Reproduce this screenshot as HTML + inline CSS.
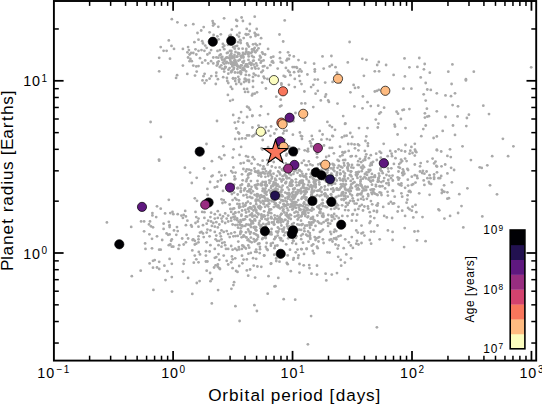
<!DOCTYPE html>
<html><head><meta charset="utf-8"><style>html,body{margin:0;padding:0;background:#fff;width:542px;height:404px;overflow:hidden;}svg{display:block;}</style></head>
<body><svg width="542" height="404" viewBox="0 0 542 404" font-family="Liberation Sans, sans-serif">
<rect width="542" height="404" fill="#fff"/>
<g fill="#a9a9a9"><circle cx="362.3" cy="58.8" r="1.4"/><circle cx="366.5" cy="59.8" r="1.4"/><circle cx="378.8" cy="62.0" r="1.4"/><circle cx="377.2" cy="65.0" r="1.4"/><circle cx="386.1" cy="65.0" r="1.4"/><circle cx="374.8" cy="71.3" r="1.4"/><circle cx="379.1" cy="71.3" r="1.4"/><circle cx="363.9" cy="75.8" r="1.4"/><circle cx="393.6" cy="74.9" r="1.4"/><circle cx="404.5" cy="58.4" r="1.4"/><circle cx="404.9" cy="76.4" r="1.4"/><circle cx="409.4" cy="67.3" r="1.4"/><circle cx="417.4" cy="66.9" r="1.4"/><circle cx="419.3" cy="58.0" r="1.4"/><circle cx="424.7" cy="64.0" r="1.4"/><circle cx="423.9" cy="69.3" r="1.4"/><circle cx="420.7" cy="77.4" r="1.4"/><circle cx="429.8" cy="72.7" r="1.4"/><circle cx="452.4" cy="64.4" r="1.4"/><circle cx="448.3" cy="71.7" r="1.4"/><circle cx="473.8" cy="71.7" r="1.4"/><circle cx="531.2" cy="67.3" r="1.4"/><circle cx="465.9" cy="79.2" r="1.4"/><circle cx="150.6" cy="122.0" r="1.4"/><circle cx="202.5" cy="80.4" r="1.4"/><circle cx="206.5" cy="80.4" r="1.4"/><circle cx="215.8" cy="84.0" r="1.4"/><circle cx="227.3" cy="81.0" r="1.4"/><circle cx="228.3" cy="83.0" r="1.4"/><circle cx="235.2" cy="81.0" r="1.4"/><circle cx="236.2" cy="84.0" r="1.4"/><circle cx="239.1" cy="82.0" r="1.4"/><circle cx="241.1" cy="84.0" r="1.4"/><circle cx="244.1" cy="82.0" r="1.4"/><circle cx="246.1" cy="81.0" r="1.4"/><circle cx="249.0" cy="82.0" r="1.4"/><circle cx="253.0" cy="81.0" r="1.4"/><circle cx="230.8" cy="86.9" r="1.4"/><circle cx="232.2" cy="88.9" r="1.4"/><circle cx="244.1" cy="88.9" r="1.4"/><circle cx="247.1" cy="88.9" r="1.4"/><circle cx="245.1" cy="91.9" r="1.4"/><circle cx="248.1" cy="91.9" r="1.4"/><circle cx="253.0" cy="86.9" r="1.4"/><circle cx="252.6" cy="93.9" r="1.4"/><circle cx="252.0" cy="95.4" r="1.4"/><circle cx="227.9" cy="94.9" r="1.4"/><circle cx="230.2" cy="100.8" r="1.4"/><circle cx="232.8" cy="99.8" r="1.4"/><circle cx="247.1" cy="106.7" r="1.4"/><circle cx="248.7" cy="107.7" r="1.4"/><circle cx="250.0" cy="109.7" r="1.4"/><circle cx="241.1" cy="112.1" r="1.4"/><circle cx="233.2" cy="115.0" r="1.4"/><circle cx="239.1" cy="118.2" r="1.4"/><circle cx="247.1" cy="117.0" r="1.4"/><circle cx="252.4" cy="115.6" r="1.4"/><circle cx="217.0" cy="121.0" r="1.4"/><circle cx="234.8" cy="122.6" r="1.4"/><circle cx="238.2" cy="121.6" r="1.4"/><circle cx="243.1" cy="122.6" r="1.4"/><circle cx="252.4" cy="127.5" r="1.4"/><circle cx="236.2" cy="128.5" r="1.4"/><circle cx="238.2" cy="132.5" r="1.4"/><circle cx="239.1" cy="133.5" r="1.4"/><circle cx="247.1" cy="135.4" r="1.4"/><circle cx="249.0" cy="135.4" r="1.4"/><circle cx="252.4" cy="136.4" r="1.4"/><circle cx="235.2" cy="139.0" r="1.4"/><circle cx="239.1" cy="139.0" r="1.4"/><circle cx="242.1" cy="138.4" r="1.4"/><circle cx="245.5" cy="138.4" r="1.4"/><circle cx="160.9" cy="137.0" r="1.4"/><circle cx="206.5" cy="144.0" r="1.4"/><circle cx="223.3" cy="146.3" r="1.4"/><circle cx="241.1" cy="146.9" r="1.4"/><circle cx="233.6" cy="149.3" r="1.4"/><circle cx="224.3" cy="155.2" r="1.4"/><circle cx="219.3" cy="157.2" r="1.4"/><circle cx="221.3" cy="158.8" r="1.4"/><circle cx="232.8" cy="157.6" r="1.4"/><circle cx="239.5" cy="154.9" r="1.4"/><circle cx="246.1" cy="156.2" r="1.4"/><circle cx="248.1" cy="156.8" r="1.4"/><circle cx="159.0" cy="159.6" r="1.4"/><circle cx="355.0" cy="87.9" r="1.4"/><circle cx="358.4" cy="87.5" r="1.4"/><circle cx="374.8" cy="91.5" r="1.4"/><circle cx="376.8" cy="90.9" r="1.4"/><circle cx="378.8" cy="89.9" r="1.4"/><circle cx="362.9" cy="96.4" r="1.4"/><circle cx="403.5" cy="88.7" r="1.4"/><circle cx="411.4" cy="88.7" r="1.4"/><circle cx="425.7" cy="83.0" r="1.4"/><circle cx="427.3" cy="89.5" r="1.4"/><circle cx="430.8" cy="89.9" r="1.4"/><circle cx="423.7" cy="94.3" r="1.4"/><circle cx="436.8" cy="93.3" r="1.4"/><circle cx="445.5" cy="95.4" r="1.4"/><circle cx="451.0" cy="96.2" r="1.4"/><circle cx="451.6" cy="84.0" r="1.4"/><circle cx="425.7" cy="100.6" r="1.4"/><circle cx="452.6" cy="105.1" r="1.4"/><circle cx="367.5" cy="102.2" r="1.4"/><circle cx="370.8" cy="106.1" r="1.4"/><circle cx="378.2" cy="105.7" r="1.4"/><circle cx="384.1" cy="107.7" r="1.4"/><circle cx="362.5" cy="108.3" r="1.4"/><circle cx="380.7" cy="112.3" r="1.4"/><circle cx="379.3" cy="113.7" r="1.4"/><circle cx="396.6" cy="111.7" r="1.4"/><circle cx="398.0" cy="113.7" r="1.4"/><circle cx="402.5" cy="110.1" r="1.4"/><circle cx="403.9" cy="109.7" r="1.4"/><circle cx="409.4" cy="109.1" r="1.4"/><circle cx="426.9" cy="108.7" r="1.4"/><circle cx="424.9" cy="113.3" r="1.4"/><circle cx="436.8" cy="111.3" r="1.4"/><circle cx="427.3" cy="116.6" r="1.4"/><circle cx="428.9" cy="116.2" r="1.4"/><circle cx="424.9" cy="117.6" r="1.4"/><circle cx="445.5" cy="117.0" r="1.4"/><circle cx="375.8" cy="119.6" r="1.4"/><circle cx="378.4" cy="123.6" r="1.4"/><circle cx="400.9" cy="119.0" r="1.4"/><circle cx="359.0" cy="128.1" r="1.4"/><circle cx="367.5" cy="128.1" r="1.4"/><circle cx="377.8" cy="127.5" r="1.4"/><circle cx="394.6" cy="124.6" r="1.4"/><circle cx="395.0" cy="126.5" r="1.4"/><circle cx="405.5" cy="128.1" r="1.4"/><circle cx="425.7" cy="125.5" r="1.4"/><circle cx="423.3" cy="129.1" r="1.4"/><circle cx="442.7" cy="130.9" r="1.4"/><circle cx="453.0" cy="125.5" r="1.4"/><circle cx="397.6" cy="134.5" r="1.4"/><circle cx="421.3" cy="136.2" r="1.4"/><circle cx="433.6" cy="138.0" r="1.4"/><circle cx="436.8" cy="136.4" r="1.4"/><circle cx="366.3" cy="136.4" r="1.4"/><circle cx="365.5" cy="141.0" r="1.4"/><circle cx="367.9" cy="143.4" r="1.4"/><circle cx="367.9" cy="145.9" r="1.4"/><circle cx="358.0" cy="144.4" r="1.4"/><circle cx="359.0" cy="145.3" r="1.4"/><circle cx="383.7" cy="143.8" r="1.4"/><circle cx="405.5" cy="145.0" r="1.4"/><circle cx="414.8" cy="143.8" r="1.4"/><circle cx="411.4" cy="146.9" r="1.4"/><circle cx="355.0" cy="148.3" r="1.4"/><circle cx="358.4" cy="150.3" r="1.4"/><circle cx="364.9" cy="150.9" r="1.4"/><circle cx="366.3" cy="154.3" r="1.4"/><circle cx="365.5" cy="156.8" r="1.4"/><circle cx="364.9" cy="158.8" r="1.4"/><circle cx="376.2" cy="153.7" r="1.4"/><circle cx="379.7" cy="151.7" r="1.4"/><circle cx="381.1" cy="152.9" r="1.4"/><circle cx="390.2" cy="150.9" r="1.4"/><circle cx="391.6" cy="153.7" r="1.4"/><circle cx="398.6" cy="149.3" r="1.4"/><circle cx="415.0" cy="149.7" r="1.4"/><circle cx="436.8" cy="149.7" r="1.4"/><circle cx="450.0" cy="149.3" r="1.4"/><circle cx="387.7" cy="156.2" r="1.4"/><circle cx="392.0" cy="156.2" r="1.4"/><circle cx="380.7" cy="157.6" r="1.4"/><circle cx="370.8" cy="155.2" r="1.4"/><circle cx="368.9" cy="158.2" r="1.4"/><circle cx="356.0" cy="156.2" r="1.4"/><circle cx="359.9" cy="158.8" r="1.4"/><circle cx="465.9" cy="80.4" r="1.4"/><circle cx="455.0" cy="93.3" r="1.4"/><circle cx="458.0" cy="106.3" r="1.4"/><circle cx="483.3" cy="105.7" r="1.4"/><circle cx="457.6" cy="116.4" r="1.4"/><circle cx="468.9" cy="114.7" r="1.4"/><circle cx="466.9" cy="118.0" r="1.4"/><circle cx="489.0" cy="114.1" r="1.4"/><circle cx="466.3" cy="126.1" r="1.4"/><circle cx="455.0" cy="134.9" r="1.4"/><circle cx="502.9" cy="138.8" r="1.4"/><circle cx="462.5" cy="146.3" r="1.4"/><circle cx="513.4" cy="146.3" r="1.4"/><circle cx="492.2" cy="156.2" r="1.4"/><circle cx="508.1" cy="156.2" r="1.4"/><circle cx="106.9" cy="222.4" r="1.4"/><circle cx="131.2" cy="226.9" r="1.4"/><circle cx="141.1" cy="221.4" r="1.4"/><circle cx="144.1" cy="221.4" r="1.4"/><circle cx="150.0" cy="221.4" r="1.4"/><circle cx="152.4" cy="213.1" r="1.4"/><circle cx="152.4" cy="215.4" r="1.4"/><circle cx="149.0" cy="224.4" r="1.4"/><circle cx="151.0" cy="226.3" r="1.4"/><circle cx="153.0" cy="227.3" r="1.4"/><circle cx="144.1" cy="231.3" r="1.4"/><circle cx="149.4" cy="234.3" r="1.4"/><circle cx="152.0" cy="238.8" r="1.4"/><circle cx="479.7" cy="167.3" r="1.4"/><circle cx="481.7" cy="167.9" r="1.4"/><circle cx="487.3" cy="165.3" r="1.4"/><circle cx="490.0" cy="185.3" r="1.4"/><circle cx="497.0" cy="194.3" r="1.4"/><circle cx="482.3" cy="216.4" r="1.4"/><circle cx="145.1" cy="243.4" r="1.4"/><circle cx="145.5" cy="248.9" r="1.4"/><circle cx="152.0" cy="248.3" r="1.4"/><circle cx="149.6" cy="263.4" r="1.4"/><circle cx="153.0" cy="260.8" r="1.4"/><circle cx="153.0" cy="267.7" r="1.4"/><circle cx="140.7" cy="270.7" r="1.4"/><circle cx="131.8" cy="276.2" r="1.4"/><circle cx="153.4" cy="289.9" r="1.4"/><circle cx="239.6" cy="321.0" r="1.4"/><circle cx="376.9" cy="327.3" r="1.4"/><circle cx="307.9" cy="344.3" r="1.4"/><circle cx="224.1" cy="18.3" r="1.4"/><circle cx="241.6" cy="17.5" r="1.4"/><circle cx="159.2" cy="71.3" r="1.4"/><circle cx="187.3" cy="73.9" r="1.4"/><circle cx="176.1" cy="77.9" r="1.4"/><circle cx="177.1" cy="75.2" r="1.4"/><circle cx="204.6" cy="83.1" r="1.4"/><circle cx="349.6" cy="42.0" r="1.4"/><circle cx="337.0" cy="72.6" r="1.4"/><circle cx="335.5" cy="67.2" r="1.4"/><circle cx="347.8" cy="62.4" r="1.4"/><circle cx="350.4" cy="92.3" r="1.4"/><circle cx="340.4" cy="82.5" r="1.4"/><circle cx="353.6" cy="84.9" r="1.4"/><circle cx="252.3" cy="116.0" r="1.4"/><circle cx="354.4" cy="106.4" r="1.4"/><circle cx="337.5" cy="103.6" r="1.4"/><circle cx="343.2" cy="116.1" r="1.4"/><circle cx="255.6" cy="133.9" r="1.4"/><circle cx="270.4" cy="135.8" r="1.4"/><circle cx="262.7" cy="140.0" r="1.4"/><circle cx="268.6" cy="130.8" r="1.4"/><circle cx="265.6" cy="132.9" r="1.4"/><circle cx="253.7" cy="135.5" r="1.4"/><circle cx="286.6" cy="130.7" r="1.4"/><circle cx="284.5" cy="139.8" r="1.4"/><circle cx="284.2" cy="130.8" r="1.4"/><circle cx="274.4" cy="133.5" r="1.4"/><circle cx="283.2" cy="133.4" r="1.4"/><circle cx="301.9" cy="138.9" r="1.4"/><circle cx="292.9" cy="134.7" r="1.4"/><circle cx="300.9" cy="135.9" r="1.4"/><circle cx="311.8" cy="135.9" r="1.4"/><circle cx="302.0" cy="136.3" r="1.4"/><circle cx="299.9" cy="132.5" r="1.4"/><circle cx="322.6" cy="134.5" r="1.4"/><circle cx="319.7" cy="130.9" r="1.4"/><circle cx="332.9" cy="136.2" r="1.4"/><circle cx="332.3" cy="135.8" r="1.4"/><circle cx="326.9" cy="139.1" r="1.4"/><circle cx="352.3" cy="136.9" r="1.4"/><circle cx="346.6" cy="135.7" r="1.4"/><circle cx="350.3" cy="133.0" r="1.4"/><circle cx="344.5" cy="136.0" r="1.4"/><circle cx="345.0" cy="123.9" r="1.4"/><circle cx="345.4" cy="123.5" r="1.4"/><circle cx="342.0" cy="137.3" r="1.4"/><circle cx="335.0" cy="129.8" r="1.4"/><circle cx="268.1" cy="147.2" r="1.4"/><circle cx="275.1" cy="153.7" r="1.4"/><circle cx="252.8" cy="157.2" r="1.4"/><circle cx="262.4" cy="149.5" r="1.4"/><circle cx="274.3" cy="153.0" r="1.4"/><circle cx="261.7" cy="148.4" r="1.4"/><circle cx="284.6" cy="147.7" r="1.4"/><circle cx="279.8" cy="144.9" r="1.4"/><circle cx="289.1" cy="146.4" r="1.4"/><circle cx="286.3" cy="155.5" r="1.4"/><circle cx="280.1" cy="152.9" r="1.4"/><circle cx="286.8" cy="154.0" r="1.4"/><circle cx="311.3" cy="145.9" r="1.4"/><circle cx="295.4" cy="155.3" r="1.4"/><circle cx="308.0" cy="149.0" r="1.4"/><circle cx="304.7" cy="150.3" r="1.4"/><circle cx="308.1" cy="151.3" r="1.4"/><circle cx="310.0" cy="141.3" r="1.4"/><circle cx="311.4" cy="146.3" r="1.4"/><circle cx="310.9" cy="143.3" r="1.4"/><circle cx="298.9" cy="149.2" r="1.4"/><circle cx="307.3" cy="151.1" r="1.4"/><circle cx="316.8" cy="153.4" r="1.4"/><circle cx="332.1" cy="147.8" r="1.4"/><circle cx="329.7" cy="147.9" r="1.4"/><circle cx="324.0" cy="145.5" r="1.4"/><circle cx="317.2" cy="153.7" r="1.4"/><circle cx="317.1" cy="157.3" r="1.4"/><circle cx="319.0" cy="145.1" r="1.4"/><circle cx="328.9" cy="155.9" r="1.4"/><circle cx="329.8" cy="139.8" r="1.4"/><circle cx="326.2" cy="157.0" r="1.4"/><circle cx="321.4" cy="139.7" r="1.4"/><circle cx="312.7" cy="139.3" r="1.4"/><circle cx="340.1" cy="156.3" r="1.4"/><circle cx="345.1" cy="152.0" r="1.4"/><circle cx="342.4" cy="155.2" r="1.4"/><circle cx="340.0" cy="146.7" r="1.4"/><circle cx="342.5" cy="152.2" r="1.4"/><circle cx="345.2" cy="160.0" r="1.4"/><circle cx="348.7" cy="150.9" r="1.4"/><circle cx="354.5" cy="144.4" r="1.4"/><circle cx="343.7" cy="152.8" r="1.4"/><circle cx="348.2" cy="144.0" r="1.4"/><circle cx="333.9" cy="153.3" r="1.4"/><circle cx="350.7" cy="156.4" r="1.4"/><circle cx="351.5" cy="144.0" r="1.4"/><circle cx="351.8" cy="156.1" r="1.4"/><circle cx="254.4" cy="159.3" r="1.4"/><circle cx="365.2" cy="159.9" r="1.4"/><circle cx="210.5" cy="281.2" r="1.4"/><circle cx="234.1" cy="282.2" r="1.4"/><circle cx="172.0" cy="291.6" r="1.4"/><circle cx="165.5" cy="280.1" r="1.4"/><circle cx="196.8" cy="283.0" r="1.4"/><circle cx="192.3" cy="293.9" r="1.4"/><circle cx="199.6" cy="281.1" r="1.4"/><circle cx="218.1" cy="290.1" r="1.4"/><circle cx="231.4" cy="288.8" r="1.4"/><circle cx="233.4" cy="285.1" r="1.4"/><circle cx="211.8" cy="303.4" r="1.4"/><circle cx="235.4" cy="306.2" r="1.4"/><circle cx="326.3" cy="280.4" r="1.4"/><circle cx="267.7" cy="293.7" r="1.4"/><circle cx="283.7" cy="299.2" r="1.4"/><circle cx="274.5" cy="286.4" r="1.4"/><circle cx="275.4" cy="286.2" r="1.4"/><circle cx="295.2" cy="299.7" r="1.4"/><circle cx="254.4" cy="305.2" r="1.4"/><circle cx="256.9" cy="311.0" r="1.4"/><circle cx="311.1" cy="316.1" r="1.4"/><circle cx="282.1" cy="160.0" r="1.4"/><circle cx="159.2" cy="160.7" r="1.4"/><circle cx="211.9" cy="161.2" r="1.4"/><circle cx="184.9" cy="167.7" r="1.4"/><circle cx="204.1" cy="168.5" r="1.4"/><circle cx="190.1" cy="172.6" r="1.4"/><circle cx="196.7" cy="177.8" r="1.4"/><circle cx="212.6" cy="175.6" r="1.4"/><circle cx="211.6" cy="176.3" r="1.4"/><circle cx="219.3" cy="172.2" r="1.4"/><circle cx="221.5" cy="175.6" r="1.4"/><circle cx="225.2" cy="175.1" r="1.4"/><circle cx="231.2" cy="171.1" r="1.4"/><circle cx="233.4" cy="167.4" r="1.4"/><circle cx="232.6" cy="172.6" r="1.4"/><circle cx="191.8" cy="183.0" r="1.4"/><circle cx="210.1" cy="182.0" r="1.4"/><circle cx="217.8" cy="181.5" r="1.4"/><circle cx="220.8" cy="180.0" r="1.4"/><circle cx="214.8" cy="187.4" r="1.4"/><circle cx="217.1" cy="186.7" r="1.4"/><circle cx="207.4" cy="188.9" r="1.4"/><circle cx="223.0" cy="190.9" r="1.4"/><circle cx="207.7" cy="194.9" r="1.4"/><circle cx="231.9" cy="194.1" r="1.4"/><circle cx="168.8" cy="199.8" r="1.4"/><circle cx="194.8" cy="198.3" r="1.4"/><circle cx="197.0" cy="200.8" r="1.4"/><circle cx="221.5" cy="199.3" r="1.4"/><circle cx="223.7" cy="200.1" r="1.4"/><circle cx="222.5" cy="203.0" r="1.4"/><circle cx="225.2" cy="202.3" r="1.4"/><circle cx="229.7" cy="204.5" r="1.4"/><circle cx="232.6" cy="200.1" r="1.4"/><circle cx="157.0" cy="206.3" r="1.4"/><circle cx="160.7" cy="208.7" r="1.4"/><circle cx="185.2" cy="210.9" r="1.4"/><circle cx="195.5" cy="211.9" r="1.4"/><circle cx="202.2" cy="211.9" r="1.4"/><circle cx="204.4" cy="212.2" r="1.4"/><circle cx="211.1" cy="212.7" r="1.4"/><circle cx="214.8" cy="214.2" r="1.4"/><circle cx="217.8" cy="211.2" r="1.4"/><circle cx="220.0" cy="214.9" r="1.4"/><circle cx="223.0" cy="216.4" r="1.4"/><circle cx="225.2" cy="213.4" r="1.4"/><circle cx="228.2" cy="215.6" r="1.4"/><circle cx="231.2" cy="211.9" r="1.4"/><circle cx="232.6" cy="209.0" r="1.4"/><circle cx="165.1" cy="213.4" r="1.4"/><circle cx="170.3" cy="213.1" r="1.4"/><circle cx="172.5" cy="211.9" r="1.4"/><circle cx="173.3" cy="214.2" r="1.4"/><circle cx="177.7" cy="214.2" r="1.4"/><circle cx="181.4" cy="215.6" r="1.4"/><circle cx="182.9" cy="217.9" r="1.4"/><circle cx="185.9" cy="216.4" r="1.4"/><circle cx="183.7" cy="214.9" r="1.4"/><circle cx="156.2" cy="217.1" r="1.4"/><circle cx="196.3" cy="217.1" r="1.4"/><circle cx="198.5" cy="218.6" r="1.4"/><circle cx="204.4" cy="217.9" r="1.4"/><circle cx="210.4" cy="217.1" r="1.4"/><circle cx="214.8" cy="218.6" r="1.4"/><circle cx="217.8" cy="217.9" r="1.4"/><circle cx="221.5" cy="218.6" r="1.4"/><circle cx="226.7" cy="218.6" r="1.4"/><circle cx="231.2" cy="217.9" r="1.4"/><circle cx="233.4" cy="217.1" r="1.4"/><circle cx="233.4" cy="214.2" r="1.4"/><circle cx="230.4" cy="209.0" r="1.4"/><circle cx="395.5" cy="151.5" r="1.4"/><circle cx="401.4" cy="150.7" r="1.4"/><circle cx="405.1" cy="151.5" r="1.4"/><circle cx="410.3" cy="150.7" r="1.4"/><circle cx="415.5" cy="151.2" r="1.4"/><circle cx="416.3" cy="152.2" r="1.4"/><circle cx="409.6" cy="153.7" r="1.4"/><circle cx="412.5" cy="153.0" r="1.4"/><circle cx="414.8" cy="155.6" r="1.4"/><circle cx="395.5" cy="158.2" r="1.4"/><circle cx="401.1" cy="159.6" r="1.4"/><circle cx="402.2" cy="161.1" r="1.4"/><circle cx="405.1" cy="158.6" r="1.4"/><circle cx="406.6" cy="161.1" r="1.4"/><circle cx="400.7" cy="162.6" r="1.4"/><circle cx="399.2" cy="164.1" r="1.4"/><circle cx="398.5" cy="167.1" r="1.4"/><circle cx="399.9" cy="167.8" r="1.4"/><circle cx="402.9" cy="169.3" r="1.4"/><circle cx="403.6" cy="171.5" r="1.4"/><circle cx="402.2" cy="173.0" r="1.4"/><circle cx="404.4" cy="173.7" r="1.4"/><circle cx="402.9" cy="175.2" r="1.4"/><circle cx="398.5" cy="171.5" r="1.4"/><circle cx="407.4" cy="169.0" r="1.4"/><circle cx="408.1" cy="170.0" r="1.4"/><circle cx="397.7" cy="177.4" r="1.4"/><circle cx="399.2" cy="178.2" r="1.4"/><circle cx="398.5" cy="179.7" r="1.4"/><circle cx="407.8" cy="179.7" r="1.4"/><circle cx="411.8" cy="176.7" r="1.4"/><circle cx="414.8" cy="175.2" r="1.4"/><circle cx="417.0" cy="176.0" r="1.4"/><circle cx="417.4" cy="178.2" r="1.4"/><circle cx="414.8" cy="164.5" r="1.4"/><circle cx="420.7" cy="163.1" r="1.4"/><circle cx="420.0" cy="166.3" r="1.4"/><circle cx="427.4" cy="161.6" r="1.4"/><circle cx="432.6" cy="158.6" r="1.4"/><circle cx="435.5" cy="161.6" r="1.4"/><circle cx="434.1" cy="163.4" r="1.4"/><circle cx="436.3" cy="166.0" r="1.4"/><circle cx="437.0" cy="166.6" r="1.4"/><circle cx="420.0" cy="171.5" r="1.4"/><circle cx="422.9" cy="170.8" r="1.4"/><circle cx="422.2" cy="173.0" r="1.4"/><circle cx="424.4" cy="173.7" r="1.4"/><circle cx="426.6" cy="171.5" r="1.4"/><circle cx="429.6" cy="175.2" r="1.4"/><circle cx="434.1" cy="174.5" r="1.4"/><circle cx="437.0" cy="172.3" r="1.4"/><circle cx="441.5" cy="166.3" r="1.4"/><circle cx="445.2" cy="164.5" r="1.4"/><circle cx="441.2" cy="176.0" r="1.4"/><circle cx="438.5" cy="178.2" r="1.4"/><circle cx="440.0" cy="178.2" r="1.4"/><circle cx="434.1" cy="178.9" r="1.4"/><circle cx="430.4" cy="178.2" r="1.4"/><circle cx="427.4" cy="178.2" r="1.4"/><circle cx="423.7" cy="180.4" r="1.4"/><circle cx="424.4" cy="184.9" r="1.4"/><circle cx="428.9" cy="181.9" r="1.4"/><circle cx="429.6" cy="183.4" r="1.4"/><circle cx="431.1" cy="184.1" r="1.4"/><circle cx="434.1" cy="177.4" r="1.4"/><circle cx="415.5" cy="182.6" r="1.4"/><circle cx="413.3" cy="184.1" r="1.4"/><circle cx="411.8" cy="184.9" r="1.4"/><circle cx="408.1" cy="185.6" r="1.4"/><circle cx="405.1" cy="187.8" r="1.4"/><circle cx="401.4" cy="183.4" r="1.4"/><circle cx="399.9" cy="184.9" r="1.4"/><circle cx="398.5" cy="184.1" r="1.4"/><circle cx="401.4" cy="185.6" r="1.4"/><circle cx="447.4" cy="155.9" r="1.4"/><circle cx="450.8" cy="157.1" r="1.4"/><circle cx="451.1" cy="167.8" r="1.4"/><circle cx="454.1" cy="170.0" r="1.4"/><circle cx="447.4" cy="173.4" r="1.4"/><circle cx="441.2" cy="151.5" r="1.4"/><circle cx="437.0" cy="150.3" r="1.4"/><circle cx="470.9" cy="160.1" r="1.4"/><circle cx="451.9" cy="182.3" r="1.4"/><circle cx="444.1" cy="185.3" r="1.4"/><circle cx="441.8" cy="189.8" r="1.4"/><circle cx="443.0" cy="191.5" r="1.4"/><circle cx="441.8" cy="193.0" r="1.4"/><circle cx="444.4" cy="191.8" r="1.4"/><circle cx="447.4" cy="192.3" r="1.4"/><circle cx="467.4" cy="188.3" r="1.4"/><circle cx="459.3" cy="194.2" r="1.4"/><circle cx="447.4" cy="198.7" r="1.4"/><circle cx="448.9" cy="198.2" r="1.4"/><circle cx="461.5" cy="206.1" r="1.4"/><circle cx="429.6" cy="194.8" r="1.4"/><circle cx="419.2" cy="193.3" r="1.4"/><circle cx="409.6" cy="190.8" r="1.4"/><circle cx="408.8" cy="191.5" r="1.4"/><circle cx="410.6" cy="192.0" r="1.4"/><circle cx="401.4" cy="193.3" r="1.4"/><circle cx="402.2" cy="196.7" r="1.4"/><circle cx="407.6" cy="195.3" r="1.4"/><circle cx="407.4" cy="199.7" r="1.4"/><circle cx="406.6" cy="202.7" r="1.4"/><circle cx="394.7" cy="196.7" r="1.4"/><circle cx="415.5" cy="204.9" r="1.4"/><circle cx="412.5" cy="206.7" r="1.4"/><circle cx="408.1" cy="207.9" r="1.4"/><circle cx="398.5" cy="206.8" r="1.4"/><circle cx="409.6" cy="209.3" r="1.4"/><circle cx="438.5" cy="209.3" r="1.4"/><circle cx="397.7" cy="211.5" r="1.4"/><circle cx="402.2" cy="210.7" r="1.4"/><circle cx="411.8" cy="210.7" r="1.4"/><circle cx="416.3" cy="212.2" r="1.4"/><circle cx="405.1" cy="215.9" r="1.4"/><circle cx="413.3" cy="217.4" r="1.4"/><circle cx="422.5" cy="217.1" r="1.4"/><circle cx="439.3" cy="210.3" r="1.4"/><circle cx="444.4" cy="218.6" r="1.4"/><circle cx="450.1" cy="215.9" r="1.4"/><circle cx="458.1" cy="213.0" r="1.4"/><circle cx="463.3" cy="227.4" r="1.4"/><circle cx="404.7" cy="228.1" r="1.4"/><circle cx="414.5" cy="231.5" r="1.4"/><circle cx="418.0" cy="231.2" r="1.4"/><circle cx="417.0" cy="240.4" r="1.4"/><circle cx="425.6" cy="241.2" r="1.4"/><circle cx="404.1" cy="247.1" r="1.4"/><circle cx="314.7" cy="220.7" r="1.4"/><circle cx="317.7" cy="221.5" r="1.4"/><circle cx="319.2" cy="223.0" r="1.4"/><circle cx="321.4" cy="223.7" r="1.4"/><circle cx="323.6" cy="222.2" r="1.4"/><circle cx="325.9" cy="220.7" r="1.4"/><circle cx="328.1" cy="223.0" r="1.4"/><circle cx="330.3" cy="223.7" r="1.4"/><circle cx="315.5" cy="225.9" r="1.4"/><circle cx="328.1" cy="225.9" r="1.4"/><circle cx="331.8" cy="220.7" r="1.4"/><circle cx="322.9" cy="229.6" r="1.4"/><circle cx="319.9" cy="231.9" r="1.4"/><circle cx="321.4" cy="231.1" r="1.4"/><circle cx="330.3" cy="231.9" r="1.4"/><circle cx="331.1" cy="234.1" r="1.4"/><circle cx="334.8" cy="229.6" r="1.4"/><circle cx="334.0" cy="231.9" r="1.4"/><circle cx="336.3" cy="231.1" r="1.4"/><circle cx="314.7" cy="237.1" r="1.4"/><circle cx="316.2" cy="238.5" r="1.4"/><circle cx="317.7" cy="237.8" r="1.4"/><circle cx="319.2" cy="237.1" r="1.4"/><circle cx="315.5" cy="240.0" r="1.4"/><circle cx="318.5" cy="241.5" r="1.4"/><circle cx="322.9" cy="239.3" r="1.4"/><circle cx="323.6" cy="243.0" r="1.4"/><circle cx="329.6" cy="240.0" r="1.4"/><circle cx="331.1" cy="239.3" r="1.4"/><circle cx="332.5" cy="241.5" r="1.4"/><circle cx="334.0" cy="238.5" r="1.4"/><circle cx="336.3" cy="237.8" r="1.4"/><circle cx="336.3" cy="239.3" r="1.4"/><circle cx="338.5" cy="236.3" r="1.4"/><circle cx="340.7" cy="235.6" r="1.4"/><circle cx="335.5" cy="244.5" r="1.4"/><circle cx="338.5" cy="245.5" r="1.4"/><circle cx="337.7" cy="248.6" r="1.4"/><circle cx="317.0" cy="246.7" r="1.4"/><circle cx="317.7" cy="248.2" r="1.4"/><circle cx="327.4" cy="252.3" r="1.4"/><circle cx="329.6" cy="252.6" r="1.4"/><circle cx="343.7" cy="248.2" r="1.4"/><circle cx="345.2" cy="239.3" r="1.4"/><circle cx="348.9" cy="242.3" r="1.4"/><circle cx="350.8" cy="245.5" r="1.4"/><circle cx="352.9" cy="247.9" r="1.4"/><circle cx="351.8" cy="237.1" r="1.4"/><circle cx="356.3" cy="230.4" r="1.4"/><circle cx="357.8" cy="232.6" r="1.4"/><circle cx="361.5" cy="233.4" r="1.4"/><circle cx="363.0" cy="232.6" r="1.4"/><circle cx="364.4" cy="235.6" r="1.4"/><circle cx="361.5" cy="243.0" r="1.4"/><circle cx="357.0" cy="240.8" r="1.4"/><circle cx="356.3" cy="243.7" r="1.4"/><circle cx="358.5" cy="244.5" r="1.4"/><circle cx="361.5" cy="225.6" r="1.4"/><circle cx="356.3" cy="220.7" r="1.4"/><circle cx="351.8" cy="220.7" r="1.4"/><circle cx="369.6" cy="223.0" r="1.4"/><circle cx="370.4" cy="221.5" r="1.4"/><circle cx="377.5" cy="225.5" r="1.4"/><circle cx="371.1" cy="231.6" r="1.4"/><circle cx="374.1" cy="231.6" r="1.4"/><circle cx="387.9" cy="230.4" r="1.4"/><circle cx="392.6" cy="231.9" r="1.4"/><circle cx="369.8" cy="240.0" r="1.4"/><circle cx="371.1" cy="243.7" r="1.4"/><circle cx="379.7" cy="239.3" r="1.4"/><circle cx="392.6" cy="240.0" r="1.4"/><circle cx="338.2" cy="256.8" r="1.4"/><circle cx="340.7" cy="259.8" r="1.4"/><circle cx="344.9" cy="262.6" r="1.4"/><circle cx="341.2" cy="265.7" r="1.4"/><circle cx="346.3" cy="254.4" r="1.4"/><circle cx="351.1" cy="258.3" r="1.4"/><circle cx="317.0" cy="265.7" r="1.4"/><circle cx="317.0" cy="274.6" r="1.4"/><circle cx="325.6" cy="273.7" r="1.4"/><circle cx="331.8" cy="274.6" r="1.4"/><circle cx="337.0" cy="273.1" r="1.4"/><circle cx="347.8" cy="279.1" r="1.4"/><circle cx="163.6" cy="223.7" r="1.4"/><circle cx="168.8" cy="221.8" r="1.4"/><circle cx="169.6" cy="225.2" r="1.4"/><circle cx="169.6" cy="227.1" r="1.4"/><circle cx="177.0" cy="227.1" r="1.4"/><circle cx="174.0" cy="230.4" r="1.4"/><circle cx="177.7" cy="231.1" r="1.4"/><circle cx="176.3" cy="234.8" r="1.4"/><circle cx="166.6" cy="233.4" r="1.4"/><circle cx="168.1" cy="234.8" r="1.4"/><circle cx="169.6" cy="234.4" r="1.4"/><circle cx="163.6" cy="228.9" r="1.4"/><circle cx="157.0" cy="236.3" r="1.4"/><circle cx="162.2" cy="240.0" r="1.4"/><circle cx="171.8" cy="239.3" r="1.4"/><circle cx="171.1" cy="240.8" r="1.4"/><circle cx="168.8" cy="245.2" r="1.4"/><circle cx="171.8" cy="246.7" r="1.4"/><circle cx="173.3" cy="246.7" r="1.4"/><circle cx="170.3" cy="244.5" r="1.4"/><circle cx="159.2" cy="249.7" r="1.4"/><circle cx="160.7" cy="249.7" r="1.4"/><circle cx="179.2" cy="245.2" r="1.4"/><circle cx="178.5" cy="248.9" r="1.4"/><circle cx="182.2" cy="238.5" r="1.4"/><circle cx="186.6" cy="234.8" r="1.4"/><circle cx="188.1" cy="238.5" r="1.4"/><circle cx="185.9" cy="242.3" r="1.4"/><circle cx="183.7" cy="244.5" r="1.4"/><circle cx="187.4" cy="220.7" r="1.4"/><circle cx="185.9" cy="225.2" r="1.4"/><circle cx="191.1" cy="225.2" r="1.4"/><circle cx="191.8" cy="226.7" r="1.4"/><circle cx="195.5" cy="223.0" r="1.4"/><circle cx="197.8" cy="221.5" r="1.4"/><circle cx="198.5" cy="226.7" r="1.4"/><circle cx="203.0" cy="225.2" r="1.4"/><circle cx="206.7" cy="223.7" r="1.4"/><circle cx="208.2" cy="220.7" r="1.4"/><circle cx="211.1" cy="221.5" r="1.4"/><circle cx="213.3" cy="223.0" r="1.4"/><circle cx="214.8" cy="226.7" r="1.4"/><circle cx="216.3" cy="222.2" r="1.4"/><circle cx="219.3" cy="224.5" r="1.4"/><circle cx="222.2" cy="221.5" r="1.4"/><circle cx="225.2" cy="223.0" r="1.4"/><circle cx="228.2" cy="221.5" r="1.4"/><circle cx="231.2" cy="220.7" r="1.4"/><circle cx="232.6" cy="224.5" r="1.4"/><circle cx="211.9" cy="225.9" r="1.4"/><circle cx="217.8" cy="227.4" r="1.4"/><circle cx="221.5" cy="230.4" r="1.4"/><circle cx="223.7" cy="231.9" r="1.4"/><circle cx="220.0" cy="233.4" r="1.4"/><circle cx="226.7" cy="231.1" r="1.4"/><circle cx="228.2" cy="234.1" r="1.4"/><circle cx="231.2" cy="233.4" r="1.4"/><circle cx="229.7" cy="237.1" r="1.4"/><circle cx="233.4" cy="236.3" r="1.4"/><circle cx="220.8" cy="236.3" r="1.4"/><circle cx="216.3" cy="235.6" r="1.4"/><circle cx="214.8" cy="231.9" r="1.4"/><circle cx="210.4" cy="230.4" r="1.4"/><circle cx="207.4" cy="229.6" r="1.4"/><circle cx="206.7" cy="232.6" r="1.4"/><circle cx="203.0" cy="233.4" r="1.4"/><circle cx="201.5" cy="231.9" r="1.4"/><circle cx="200.0" cy="232.6" r="1.4"/><circle cx="198.5" cy="236.3" r="1.4"/><circle cx="203.7" cy="237.1" r="1.4"/><circle cx="209.6" cy="236.3" r="1.4"/><circle cx="193.3" cy="239.3" r="1.4"/><circle cx="194.8" cy="240.8" r="1.4"/><circle cx="192.6" cy="240.0" r="1.4"/><circle cx="198.5" cy="239.3" r="1.4"/><circle cx="198.5" cy="242.3" r="1.4"/><circle cx="194.8" cy="244.5" r="1.4"/><circle cx="196.3" cy="243.7" r="1.4"/><circle cx="206.7" cy="242.3" r="1.4"/><circle cx="210.4" cy="245.2" r="1.4"/><circle cx="215.6" cy="239.3" r="1.4"/><circle cx="217.1" cy="240.8" r="1.4"/><circle cx="219.3" cy="240.8" r="1.4"/><circle cx="221.5" cy="239.3" r="1.4"/><circle cx="222.2" cy="243.0" r="1.4"/><circle cx="224.5" cy="242.3" r="1.4"/><circle cx="225.2" cy="245.2" r="1.4"/><circle cx="218.5" cy="245.2" r="1.4"/><circle cx="221.5" cy="246.7" r="1.4"/><circle cx="228.2" cy="248.9" r="1.4"/><circle cx="231.2" cy="246.0" r="1.4"/><circle cx="214.8" cy="248.9" r="1.4"/><circle cx="226.0" cy="248.9" r="1.4"/><circle cx="232.6" cy="249.7" r="1.4"/><circle cx="192.3" cy="250.4" r="1.4"/><circle cx="198.8" cy="251.9" r="1.4"/><circle cx="200.0" cy="254.4" r="1.4"/><circle cx="205.9" cy="251.2" r="1.4"/><circle cx="209.6" cy="251.5" r="1.4"/><circle cx="194.8" cy="255.6" r="1.4"/><circle cx="205.9" cy="255.6" r="1.4"/><circle cx="196.3" cy="259.3" r="1.4"/><circle cx="198.5" cy="262.3" r="1.4"/><circle cx="193.8" cy="262.7" r="1.4"/><circle cx="205.9" cy="261.5" r="1.4"/><circle cx="207.4" cy="261.5" r="1.4"/><circle cx="214.8" cy="257.8" r="1.4"/><circle cx="216.3" cy="257.1" r="1.4"/><circle cx="218.5" cy="254.1" r="1.4"/><circle cx="219.3" cy="259.8" r="1.4"/><circle cx="223.7" cy="255.6" r="1.4"/><circle cx="226.7" cy="260.8" r="1.4"/><circle cx="231.9" cy="256.4" r="1.4"/><circle cx="232.6" cy="259.3" r="1.4"/><circle cx="231.2" cy="262.3" r="1.4"/><circle cx="228.2" cy="264.5" r="1.4"/><circle cx="217.8" cy="264.5" r="1.4"/><circle cx="215.6" cy="265.3" r="1.4"/><circle cx="214.1" cy="267.5" r="1.4"/><circle cx="219.3" cy="268.2" r="1.4"/><circle cx="220.0" cy="269.0" r="1.4"/><circle cx="217.8" cy="266.7" r="1.4"/><circle cx="232.6" cy="268.2" r="1.4"/><circle cx="184.4" cy="260.1" r="1.4"/><circle cx="183.7" cy="263.8" r="1.4"/><circle cx="169.6" cy="258.9" r="1.4"/><circle cx="171.8" cy="263.8" r="1.4"/><circle cx="164.4" cy="265.7" r="1.4"/><circle cx="159.2" cy="261.8" r="1.4"/><circle cx="154.7" cy="260.1" r="1.4"/><circle cx="157.0" cy="267.5" r="1.4"/><circle cx="159.2" cy="269.0" r="1.4"/><circle cx="167.4" cy="271.2" r="1.4"/><circle cx="182.9" cy="271.6" r="1.4"/><circle cx="206.7" cy="270.7" r="1.4"/><circle cx="210.1" cy="273.0" r="1.4"/><circle cx="171.8" cy="277.1" r="1.4"/><circle cx="188.1" cy="277.9" r="1.4"/><circle cx="211.9" cy="279.1" r="1.4"/><circle cx="254.7" cy="16.7" r="1.4"/><circle cx="284.7" cy="20.4" r="1.4"/><circle cx="256.7" cy="29.0" r="1.4"/><circle cx="254.7" cy="33.0" r="1.4"/><circle cx="255.8" cy="34.5" r="1.4"/><circle cx="255.5" cy="36.0" r="1.4"/><circle cx="258.2" cy="34.9" r="1.4"/><circle cx="261.1" cy="38.2" r="1.4"/><circle cx="279.5" cy="34.5" r="1.4"/><circle cx="283.2" cy="41.5" r="1.4"/><circle cx="255.5" cy="43.8" r="1.4"/><circle cx="257.0" cy="45.3" r="1.4"/><circle cx="259.9" cy="44.1" r="1.4"/><circle cx="254.7" cy="47.8" r="1.4"/><circle cx="258.5" cy="48.3" r="1.4"/><circle cx="257.0" cy="50.4" r="1.4"/><circle cx="255.5" cy="52.3" r="1.4"/><circle cx="254.7" cy="51.5" r="1.4"/><circle cx="268.1" cy="48.9" r="1.4"/><circle cx="262.2" cy="52.3" r="1.4"/><circle cx="262.9" cy="53.8" r="1.4"/><circle cx="265.1" cy="54.5" r="1.4"/><circle cx="259.9" cy="56.0" r="1.4"/><circle cx="260.7" cy="57.5" r="1.4"/><circle cx="259.2" cy="59.7" r="1.4"/><circle cx="261.4" cy="61.2" r="1.4"/><circle cx="263.6" cy="60.4" r="1.4"/><circle cx="260.7" cy="62.7" r="1.4"/><circle cx="256.2" cy="63.4" r="1.4"/><circle cx="257.0" cy="65.6" r="1.4"/><circle cx="254.7" cy="67.1" r="1.4"/><circle cx="255.5" cy="68.6" r="1.4"/><circle cx="258.5" cy="68.6" r="1.4"/><circle cx="262.9" cy="66.4" r="1.4"/><circle cx="264.4" cy="66.1" r="1.4"/><circle cx="267.4" cy="67.9" r="1.4"/><circle cx="270.3" cy="65.2" r="1.4"/><circle cx="271.1" cy="57.5" r="1.4"/><circle cx="273.3" cy="56.7" r="1.4"/><circle cx="272.5" cy="61.2" r="1.4"/><circle cx="273.3" cy="62.7" r="1.4"/><circle cx="271.8" cy="61.9" r="1.4"/><circle cx="280.0" cy="52.3" r="1.4"/><circle cx="280.0" cy="58.2" r="1.4"/><circle cx="280.7" cy="61.9" r="1.4"/><circle cx="282.2" cy="62.7" r="1.4"/><circle cx="288.1" cy="52.3" r="1.4"/><circle cx="289.6" cy="55.3" r="1.4"/><circle cx="287.4" cy="59.0" r="1.4"/><circle cx="286.6" cy="60.4" r="1.4"/><circle cx="288.9" cy="59.0" r="1.4"/><circle cx="293.8" cy="56.4" r="1.4"/><circle cx="298.5" cy="60.1" r="1.4"/><circle cx="305.2" cy="62.7" r="1.4"/><circle cx="314.1" cy="63.7" r="1.4"/><circle cx="322.5" cy="56.4" r="1.4"/><circle cx="331.4" cy="56.0" r="1.4"/><circle cx="331.9" cy="64.9" r="1.4"/><circle cx="329.7" cy="66.4" r="1.4"/><circle cx="323.7" cy="68.6" r="1.4"/><circle cx="314.8" cy="69.3" r="1.4"/><circle cx="292.6" cy="67.1" r="1.4"/><circle cx="294.1" cy="67.1" r="1.4"/><circle cx="296.3" cy="67.1" r="1.4"/><circle cx="297.0" cy="67.9" r="1.4"/><circle cx="285.9" cy="67.9" r="1.4"/><circle cx="277.7" cy="68.6" r="1.4"/><circle cx="300.0" cy="69.3" r="1.4"/><circle cx="255.5" cy="75.2" r="1.4"/><circle cx="258.5" cy="75.9" r="1.4"/><circle cx="261.4" cy="72.2" r="1.4"/><circle cx="263.6" cy="76.7" r="1.4"/><circle cx="264.4" cy="78.2" r="1.4"/><circle cx="262.9" cy="70.7" r="1.4"/><circle cx="267.4" cy="78.9" r="1.4"/><circle cx="281.4" cy="83.4" r="1.4"/><circle cx="281.4" cy="84.8" r="1.4"/><circle cx="283.7" cy="75.9" r="1.4"/><circle cx="285.2" cy="76.7" r="1.4"/><circle cx="288.1" cy="70.7" r="1.4"/><circle cx="289.6" cy="72.2" r="1.4"/><circle cx="290.4" cy="75.2" r="1.4"/><circle cx="294.1" cy="72.2" r="1.4"/><circle cx="298.5" cy="71.5" r="1.4"/><circle cx="301.5" cy="71.5" r="1.4"/><circle cx="299.3" cy="75.9" r="1.4"/><circle cx="294.8" cy="78.9" r="1.4"/><circle cx="300.0" cy="81.1" r="1.4"/><circle cx="301.5" cy="84.1" r="1.4"/><circle cx="307.4" cy="74.5" r="1.4"/><circle cx="314.8" cy="71.5" r="1.4"/><circle cx="314.8" cy="79.6" r="1.4"/><circle cx="317.8" cy="79.6" r="1.4"/><circle cx="325.2" cy="82.6" r="1.4"/><circle cx="332.6" cy="81.9" r="1.4"/><circle cx="313.3" cy="84.8" r="1.4"/><circle cx="311.1" cy="87.1" r="1.4"/><circle cx="317.8" cy="90.8" r="1.4"/><circle cx="315.6" cy="93.7" r="1.4"/><circle cx="326.0" cy="94.5" r="1.4"/><circle cx="325.2" cy="96.7" r="1.4"/><circle cx="328.2" cy="100.4" r="1.4"/><circle cx="328.9" cy="101.9" r="1.4"/><circle cx="320.8" cy="100.4" r="1.4"/><circle cx="304.4" cy="91.5" r="1.4"/><circle cx="294.8" cy="87.1" r="1.4"/><circle cx="288.9" cy="84.8" r="1.4"/><circle cx="262.2" cy="82.6" r="1.4"/><circle cx="265.9" cy="88.5" r="1.4"/><circle cx="257.0" cy="92.3" r="1.4"/><circle cx="254.7" cy="93.7" r="1.4"/><circle cx="276.3" cy="96.7" r="1.4"/><circle cx="280.7" cy="99.7" r="1.4"/><circle cx="280.0" cy="106.4" r="1.4"/><circle cx="281.4" cy="105.6" r="1.4"/><circle cx="301.5" cy="103.4" r="1.4"/><circle cx="305.2" cy="103.4" r="1.4"/><circle cx="313.3" cy="107.1" r="1.4"/><circle cx="261.1" cy="106.4" r="1.4"/><circle cx="259.9" cy="115.3" r="1.4"/><circle cx="268.1" cy="114.1" r="1.4"/><circle cx="295.5" cy="113.0" r="1.4"/><circle cx="293.3" cy="121.2" r="1.4"/><circle cx="304.4" cy="120.4" r="1.4"/><circle cx="327.4" cy="121.9" r="1.4"/><circle cx="329.7" cy="125.6" r="1.4"/><circle cx="331.9" cy="127.1" r="1.4"/><circle cx="258.5" cy="125.6" r="1.4"/><circle cx="265.9" cy="127.1" r="1.4"/><circle cx="271.1" cy="126.4" r="1.4"/><circle cx="276.3" cy="129.3" r="1.4"/><circle cx="171.8" cy="19.2" r="1.4"/><circle cx="177.4" cy="22.3" r="1.4"/><circle cx="185.6" cy="25.3" r="1.4"/><circle cx="193.3" cy="24.2" r="1.4"/><circle cx="203.7" cy="27.1" r="1.4"/><circle cx="201.2" cy="30.5" r="1.4"/><circle cx="197.5" cy="33.0" r="1.4"/><circle cx="212.6" cy="21.1" r="1.4"/><circle cx="213.1" cy="23.1" r="1.4"/><circle cx="213.1" cy="25.6" r="1.4"/><circle cx="209.6" cy="32.3" r="1.4"/><circle cx="213.6" cy="34.9" r="1.4"/><circle cx="168.8" cy="40.4" r="1.4"/><circle cx="160.7" cy="47.1" r="1.4"/><circle cx="163.6" cy="50.8" r="1.4"/><circle cx="166.6" cy="50.8" r="1.4"/><circle cx="171.5" cy="45.9" r="1.4"/><circle cx="174.0" cy="48.9" r="1.4"/><circle cx="182.9" cy="48.9" r="1.4"/><circle cx="194.4" cy="42.2" r="1.4"/><circle cx="198.5" cy="39.7" r="1.4"/><circle cx="202.2" cy="41.2" r="1.4"/><circle cx="203.0" cy="43.4" r="1.4"/><circle cx="205.2" cy="45.6" r="1.4"/><circle cx="206.7" cy="47.8" r="1.4"/><circle cx="204.4" cy="50.8" r="1.4"/><circle cx="201.5" cy="50.1" r="1.4"/><circle cx="198.5" cy="50.8" r="1.4"/><circle cx="195.5" cy="49.3" r="1.4"/><circle cx="193.3" cy="53.0" r="1.4"/><circle cx="196.3" cy="54.5" r="1.4"/><circle cx="188.1" cy="47.1" r="1.4"/><circle cx="188.9" cy="50.1" r="1.4"/><circle cx="187.4" cy="52.3" r="1.4"/><circle cx="189.6" cy="54.5" r="1.4"/><circle cx="191.1" cy="53.0" r="1.4"/><circle cx="188.1" cy="57.5" r="1.4"/><circle cx="190.4" cy="59.0" r="1.4"/><circle cx="191.8" cy="61.2" r="1.4"/><circle cx="189.6" cy="61.2" r="1.4"/><circle cx="193.3" cy="65.6" r="1.4"/><circle cx="196.3" cy="66.4" r="1.4"/><circle cx="198.5" cy="66.1" r="1.4"/><circle cx="182.9" cy="65.6" r="1.4"/><circle cx="159.2" cy="57.8" r="1.4"/><circle cx="170.0" cy="58.7" r="1.4"/><circle cx="200.0" cy="58.2" r="1.4"/><circle cx="202.2" cy="62.7" r="1.4"/><circle cx="205.2" cy="60.4" r="1.4"/><circle cx="207.4" cy="54.5" r="1.4"/><circle cx="209.6" cy="53.0" r="1.4"/><circle cx="211.1" cy="50.1" r="1.4"/><circle cx="211.1" cy="61.2" r="1.4"/><circle cx="208.2" cy="63.4" r="1.4"/><circle cx="213.3" cy="63.4" r="1.4"/><circle cx="213.3" cy="57.5" r="1.4"/><circle cx="240.7" cy="163.4" r="1.4"/><circle cx="243.4" cy="169.0" r="1.4"/><circle cx="243.7" cy="162.8" r="1.4"/><circle cx="249.1" cy="161.0" r="1.4"/><circle cx="247.6" cy="160.7" r="1.4"/><circle cx="249.0" cy="169.6" r="1.4"/><circle cx="251.6" cy="163.6" r="1.4"/><circle cx="246.8" cy="169.3" r="1.4"/><circle cx="254.5" cy="168.5" r="1.4"/><circle cx="262.6" cy="160.7" r="1.4"/><circle cx="263.5" cy="166.5" r="1.4"/><circle cx="257.9" cy="164.3" r="1.4"/><circle cx="260.1" cy="165.3" r="1.4"/><circle cx="262.7" cy="169.0" r="1.4"/><circle cx="267.3" cy="160.1" r="1.4"/><circle cx="271.8" cy="166.5" r="1.4"/><circle cx="270.6" cy="160.7" r="1.4"/><circle cx="264.8" cy="169.0" r="1.4"/><circle cx="267.6" cy="164.7" r="1.4"/><circle cx="273.7" cy="162.0" r="1.4"/><circle cx="280.4" cy="160.6" r="1.4"/><circle cx="279.6" cy="167.4" r="1.4"/><circle cx="275.6" cy="167.6" r="1.4"/><circle cx="283.7" cy="168.3" r="1.4"/><circle cx="281.9" cy="169.5" r="1.4"/><circle cx="291.2" cy="165.5" r="1.4"/><circle cx="292.2" cy="168.1" r="1.4"/><circle cx="290.3" cy="166.7" r="1.4"/><circle cx="285.8" cy="163.4" r="1.4"/><circle cx="287.3" cy="168.6" r="1.4"/><circle cx="301.8" cy="162.9" r="1.4"/><circle cx="303.9" cy="160.6" r="1.4"/><circle cx="294.6" cy="163.3" r="1.4"/><circle cx="294.8" cy="169.5" r="1.4"/><circle cx="297.6" cy="163.9" r="1.4"/><circle cx="312.5" cy="165.3" r="1.4"/><circle cx="310.3" cy="164.4" r="1.4"/><circle cx="308.6" cy="169.6" r="1.4"/><circle cx="306.8" cy="165.3" r="1.4"/><circle cx="308.8" cy="161.4" r="1.4"/><circle cx="305.5" cy="165.1" r="1.4"/><circle cx="242.0" cy="174.3" r="1.4"/><circle cx="234.6" cy="179.4" r="1.4"/><circle cx="235.4" cy="178.8" r="1.4"/><circle cx="234.5" cy="176.5" r="1.4"/><circle cx="235.5" cy="172.6" r="1.4"/><circle cx="248.2" cy="177.6" r="1.4"/><circle cx="248.4" cy="174.2" r="1.4"/><circle cx="248.0" cy="175.2" r="1.4"/><circle cx="246.8" cy="179.5" r="1.4"/><circle cx="245.9" cy="171.3" r="1.4"/><circle cx="249.5" cy="173.5" r="1.4"/><circle cx="251.2" cy="170.4" r="1.4"/><circle cx="250.8" cy="173.6" r="1.4"/><circle cx="263.3" cy="173.0" r="1.4"/><circle cx="258.3" cy="173.2" r="1.4"/><circle cx="259.3" cy="172.8" r="1.4"/><circle cx="260.7" cy="174.1" r="1.4"/><circle cx="261.1" cy="172.9" r="1.4"/><circle cx="258.6" cy="175.6" r="1.4"/><circle cx="261.2" cy="176.5" r="1.4"/><circle cx="258.3" cy="170.9" r="1.4"/><circle cx="255.1" cy="171.5" r="1.4"/><circle cx="255.8" cy="171.8" r="1.4"/><circle cx="260.6" cy="173.4" r="1.4"/><circle cx="263.1" cy="172.3" r="1.4"/><circle cx="256.5" cy="171.8" r="1.4"/><circle cx="265.4" cy="176.8" r="1.4"/><circle cx="269.8" cy="172.5" r="1.4"/><circle cx="272.1" cy="176.8" r="1.4"/><circle cx="268.3" cy="176.1" r="1.4"/><circle cx="270.6" cy="174.4" r="1.4"/><circle cx="264.9" cy="173.6" r="1.4"/><circle cx="273.5" cy="173.7" r="1.4"/><circle cx="270.4" cy="170.9" r="1.4"/><circle cx="271.7" cy="178.6" r="1.4"/><circle cx="267.7" cy="173.7" r="1.4"/><circle cx="269.1" cy="172.5" r="1.4"/><circle cx="266.1" cy="171.3" r="1.4"/><circle cx="270.9" cy="175.1" r="1.4"/><circle cx="283.6" cy="179.6" r="1.4"/><circle cx="282.7" cy="179.4" r="1.4"/><circle cx="282.4" cy="170.2" r="1.4"/><circle cx="275.3" cy="179.8" r="1.4"/><circle cx="282.7" cy="176.2" r="1.4"/><circle cx="280.2" cy="174.4" r="1.4"/><circle cx="278.2" cy="171.5" r="1.4"/><circle cx="279.5" cy="172.7" r="1.4"/><circle cx="275.2" cy="178.7" r="1.4"/><circle cx="279.7" cy="178.8" r="1.4"/><circle cx="276.9" cy="175.8" r="1.4"/><circle cx="286.8" cy="178.3" r="1.4"/><circle cx="286.1" cy="176.5" r="1.4"/><circle cx="289.5" cy="173.3" r="1.4"/><circle cx="284.8" cy="174.9" r="1.4"/><circle cx="289.2" cy="178.2" r="1.4"/><circle cx="286.0" cy="171.9" r="1.4"/><circle cx="287.1" cy="178.0" r="1.4"/><circle cx="286.3" cy="176.3" r="1.4"/><circle cx="284.3" cy="170.8" r="1.4"/><circle cx="291.1" cy="175.0" r="1.4"/><circle cx="285.1" cy="174.7" r="1.4"/><circle cx="293.4" cy="173.9" r="1.4"/><circle cx="289.6" cy="174.2" r="1.4"/><circle cx="299.1" cy="170.4" r="1.4"/><circle cx="302.8" cy="175.8" r="1.4"/><circle cx="297.5" cy="172.8" r="1.4"/><circle cx="295.9" cy="179.3" r="1.4"/><circle cx="302.4" cy="173.8" r="1.4"/><circle cx="300.0" cy="175.5" r="1.4"/><circle cx="296.0" cy="170.3" r="1.4"/><circle cx="301.4" cy="171.6" r="1.4"/><circle cx="299.6" cy="170.2" r="1.4"/><circle cx="294.2" cy="171.6" r="1.4"/><circle cx="300.5" cy="176.1" r="1.4"/><circle cx="303.9" cy="176.6" r="1.4"/><circle cx="299.2" cy="170.1" r="1.4"/><circle cx="313.6" cy="174.9" r="1.4"/><circle cx="312.6" cy="170.4" r="1.4"/><circle cx="312.4" cy="174.8" r="1.4"/><circle cx="306.2" cy="174.1" r="1.4"/><circle cx="304.8" cy="175.8" r="1.4"/><circle cx="306.2" cy="177.0" r="1.4"/><circle cx="305.7" cy="176.9" r="1.4"/><circle cx="310.2" cy="177.1" r="1.4"/><circle cx="313.5" cy="173.0" r="1.4"/><circle cx="310.8" cy="174.0" r="1.4"/><circle cx="312.9" cy="178.3" r="1.4"/><circle cx="311.6" cy="176.0" r="1.4"/><circle cx="306.6" cy="179.1" r="1.4"/><circle cx="313.7" cy="179.5" r="1.4"/><circle cx="237.4" cy="188.2" r="1.4"/><circle cx="240.8" cy="188.4" r="1.4"/><circle cx="242.0" cy="184.5" r="1.4"/><circle cx="238.0" cy="188.0" r="1.4"/><circle cx="240.5" cy="185.4" r="1.4"/><circle cx="242.7" cy="180.3" r="1.4"/><circle cx="234.1" cy="184.6" r="1.4"/><circle cx="245.0" cy="188.4" r="1.4"/><circle cx="244.9" cy="188.8" r="1.4"/><circle cx="246.3" cy="181.3" r="1.4"/><circle cx="251.5" cy="186.8" r="1.4"/><circle cx="248.1" cy="186.0" r="1.4"/><circle cx="249.5" cy="189.5" r="1.4"/><circle cx="249.1" cy="185.4" r="1.4"/><circle cx="248.6" cy="184.1" r="1.4"/><circle cx="250.9" cy="181.1" r="1.4"/><circle cx="250.9" cy="189.3" r="1.4"/><circle cx="261.6" cy="185.4" r="1.4"/><circle cx="257.5" cy="181.0" r="1.4"/><circle cx="254.9" cy="185.4" r="1.4"/><circle cx="262.8" cy="188.7" r="1.4"/><circle cx="255.8" cy="187.5" r="1.4"/><circle cx="262.1" cy="184.8" r="1.4"/><circle cx="262.6" cy="181.9" r="1.4"/><circle cx="257.4" cy="185.1" r="1.4"/><circle cx="261.3" cy="184.5" r="1.4"/><circle cx="257.0" cy="188.7" r="1.4"/><circle cx="257.9" cy="184.2" r="1.4"/><circle cx="256.2" cy="184.8" r="1.4"/><circle cx="261.1" cy="183.6" r="1.4"/><circle cx="260.6" cy="184.9" r="1.4"/><circle cx="264.1" cy="189.6" r="1.4"/><circle cx="266.9" cy="185.5" r="1.4"/><circle cx="273.6" cy="182.1" r="1.4"/><circle cx="264.6" cy="182.1" r="1.4"/><circle cx="265.5" cy="188.5" r="1.4"/><circle cx="269.2" cy="180.4" r="1.4"/><circle cx="266.7" cy="185.1" r="1.4"/><circle cx="265.7" cy="183.1" r="1.4"/><circle cx="273.0" cy="184.4" r="1.4"/><circle cx="266.3" cy="186.0" r="1.4"/><circle cx="265.1" cy="185.2" r="1.4"/><circle cx="270.5" cy="180.9" r="1.4"/><circle cx="269.5" cy="183.1" r="1.4"/><circle cx="271.4" cy="186.2" r="1.4"/><circle cx="273.1" cy="186.1" r="1.4"/><circle cx="265.8" cy="181.9" r="1.4"/><circle cx="271.0" cy="188.1" r="1.4"/><circle cx="274.6" cy="184.2" r="1.4"/><circle cx="276.8" cy="184.7" r="1.4"/><circle cx="282.7" cy="185.6" r="1.4"/><circle cx="281.4" cy="187.6" r="1.4"/><circle cx="276.8" cy="186.2" r="1.4"/><circle cx="277.8" cy="184.7" r="1.4"/><circle cx="279.3" cy="186.7" r="1.4"/><circle cx="275.7" cy="188.4" r="1.4"/><circle cx="275.6" cy="183.1" r="1.4"/><circle cx="282.5" cy="189.9" r="1.4"/><circle cx="277.7" cy="189.5" r="1.4"/><circle cx="274.4" cy="189.6" r="1.4"/><circle cx="276.0" cy="180.3" r="1.4"/><circle cx="281.6" cy="181.6" r="1.4"/><circle cx="281.5" cy="180.1" r="1.4"/><circle cx="275.2" cy="183.6" r="1.4"/><circle cx="274.8" cy="184.7" r="1.4"/><circle cx="287.5" cy="187.4" r="1.4"/><circle cx="288.9" cy="189.7" r="1.4"/><circle cx="292.4" cy="181.7" r="1.4"/><circle cx="293.2" cy="188.9" r="1.4"/><circle cx="289.6" cy="185.3" r="1.4"/><circle cx="285.7" cy="183.2" r="1.4"/><circle cx="286.2" cy="182.0" r="1.4"/><circle cx="290.1" cy="183.2" r="1.4"/><circle cx="291.7" cy="185.7" r="1.4"/><circle cx="292.3" cy="180.9" r="1.4"/><circle cx="292.5" cy="185.1" r="1.4"/><circle cx="290.3" cy="182.4" r="1.4"/><circle cx="291.0" cy="184.1" r="1.4"/><circle cx="291.2" cy="185.8" r="1.4"/><circle cx="285.4" cy="183.0" r="1.4"/><circle cx="291.5" cy="180.2" r="1.4"/><circle cx="290.3" cy="185.5" r="1.4"/><circle cx="291.1" cy="183.3" r="1.4"/><circle cx="298.8" cy="184.8" r="1.4"/><circle cx="301.5" cy="180.7" r="1.4"/><circle cx="299.1" cy="182.6" r="1.4"/><circle cx="299.9" cy="182.6" r="1.4"/><circle cx="296.1" cy="182.3" r="1.4"/><circle cx="302.9" cy="183.6" r="1.4"/><circle cx="302.8" cy="187.4" r="1.4"/><circle cx="296.7" cy="185.5" r="1.4"/><circle cx="294.1" cy="189.3" r="1.4"/><circle cx="300.3" cy="181.1" r="1.4"/><circle cx="299.2" cy="185.0" r="1.4"/><circle cx="300.7" cy="182.9" r="1.4"/><circle cx="303.1" cy="186.2" r="1.4"/><circle cx="294.7" cy="188.2" r="1.4"/><circle cx="302.8" cy="183.0" r="1.4"/><circle cx="301.1" cy="188.6" r="1.4"/><circle cx="302.8" cy="180.7" r="1.4"/><circle cx="302.4" cy="182.5" r="1.4"/><circle cx="312.0" cy="186.9" r="1.4"/><circle cx="308.7" cy="189.0" r="1.4"/><circle cx="312.0" cy="189.9" r="1.4"/><circle cx="313.6" cy="185.7" r="1.4"/><circle cx="311.3" cy="186.7" r="1.4"/><circle cx="308.0" cy="185.0" r="1.4"/><circle cx="309.1" cy="182.2" r="1.4"/><circle cx="306.6" cy="188.4" r="1.4"/><circle cx="312.5" cy="187.0" r="1.4"/><circle cx="310.9" cy="185.1" r="1.4"/><circle cx="309.7" cy="186.7" r="1.4"/><circle cx="304.1" cy="184.4" r="1.4"/><circle cx="313.7" cy="182.1" r="1.4"/><circle cx="308.7" cy="180.8" r="1.4"/><circle cx="306.5" cy="188.2" r="1.4"/><circle cx="304.3" cy="188.0" r="1.4"/><circle cx="312.0" cy="188.7" r="1.4"/><circle cx="306.6" cy="189.3" r="1.4"/><circle cx="237.7" cy="194.5" r="1.4"/><circle cx="243.5" cy="195.4" r="1.4"/><circle cx="240.8" cy="191.1" r="1.4"/><circle cx="234.0" cy="192.6" r="1.4"/><circle cx="235.1" cy="198.2" r="1.4"/><circle cx="236.5" cy="199.6" r="1.4"/><circle cx="240.8" cy="191.9" r="1.4"/><circle cx="251.1" cy="193.2" r="1.4"/><circle cx="249.3" cy="190.8" r="1.4"/><circle cx="252.3" cy="197.9" r="1.4"/><circle cx="249.8" cy="196.9" r="1.4"/><circle cx="247.4" cy="191.3" r="1.4"/><circle cx="247.3" cy="197.4" r="1.4"/><circle cx="249.6" cy="191.3" r="1.4"/><circle cx="246.4" cy="194.8" r="1.4"/><circle cx="244.1" cy="190.4" r="1.4"/><circle cx="248.5" cy="191.3" r="1.4"/><circle cx="252.9" cy="191.3" r="1.4"/><circle cx="251.5" cy="197.9" r="1.4"/><circle cx="257.2" cy="195.4" r="1.4"/><circle cx="263.9" cy="196.2" r="1.4"/><circle cx="257.9" cy="199.8" r="1.4"/><circle cx="256.6" cy="199.6" r="1.4"/><circle cx="257.1" cy="194.2" r="1.4"/><circle cx="257.2" cy="196.5" r="1.4"/><circle cx="262.8" cy="196.9" r="1.4"/><circle cx="255.8" cy="199.9" r="1.4"/><circle cx="261.2" cy="195.1" r="1.4"/><circle cx="262.5" cy="191.1" r="1.4"/><circle cx="260.0" cy="197.9" r="1.4"/><circle cx="261.8" cy="196.7" r="1.4"/><circle cx="254.6" cy="194.8" r="1.4"/><circle cx="256.7" cy="196.1" r="1.4"/><circle cx="258.0" cy="194.6" r="1.4"/><circle cx="259.4" cy="195.9" r="1.4"/><circle cx="272.9" cy="192.8" r="1.4"/><circle cx="266.7" cy="191.8" r="1.4"/><circle cx="265.1" cy="198.5" r="1.4"/><circle cx="273.2" cy="191.3" r="1.4"/><circle cx="267.6" cy="199.0" r="1.4"/><circle cx="272.6" cy="199.8" r="1.4"/><circle cx="273.9" cy="193.0" r="1.4"/><circle cx="264.7" cy="192.5" r="1.4"/><circle cx="269.0" cy="190.2" r="1.4"/><circle cx="266.5" cy="194.7" r="1.4"/><circle cx="270.8" cy="191.5" r="1.4"/><circle cx="265.2" cy="193.3" r="1.4"/><circle cx="264.9" cy="191.2" r="1.4"/><circle cx="265.0" cy="198.0" r="1.4"/><circle cx="272.8" cy="190.4" r="1.4"/><circle cx="272.0" cy="198.4" r="1.4"/><circle cx="270.5" cy="193.0" r="1.4"/><circle cx="272.2" cy="190.8" r="1.4"/><circle cx="274.5" cy="199.5" r="1.4"/><circle cx="276.2" cy="199.2" r="1.4"/><circle cx="281.5" cy="190.5" r="1.4"/><circle cx="274.9" cy="196.5" r="1.4"/><circle cx="275.5" cy="196.7" r="1.4"/><circle cx="280.7" cy="192.3" r="1.4"/><circle cx="278.8" cy="192.1" r="1.4"/><circle cx="282.7" cy="196.3" r="1.4"/><circle cx="280.9" cy="196.2" r="1.4"/><circle cx="274.6" cy="198.9" r="1.4"/><circle cx="281.8" cy="195.1" r="1.4"/><circle cx="279.9" cy="194.9" r="1.4"/><circle cx="281.6" cy="195.3" r="1.4"/><circle cx="276.8" cy="195.2" r="1.4"/><circle cx="276.1" cy="190.0" r="1.4"/><circle cx="279.2" cy="198.7" r="1.4"/><circle cx="281.2" cy="192.1" r="1.4"/><circle cx="289.1" cy="195.8" r="1.4"/><circle cx="289.8" cy="194.6" r="1.4"/><circle cx="289.1" cy="196.9" r="1.4"/><circle cx="292.8" cy="195.2" r="1.4"/><circle cx="291.8" cy="196.8" r="1.4"/><circle cx="285.2" cy="192.6" r="1.4"/><circle cx="287.1" cy="193.5" r="1.4"/><circle cx="288.9" cy="192.9" r="1.4"/><circle cx="294.0" cy="197.3" r="1.4"/><circle cx="287.7" cy="197.0" r="1.4"/><circle cx="293.2" cy="191.6" r="1.4"/><circle cx="290.3" cy="199.6" r="1.4"/><circle cx="287.8" cy="198.8" r="1.4"/><circle cx="292.0" cy="193.2" r="1.4"/><circle cx="285.4" cy="198.1" r="1.4"/><circle cx="288.2" cy="193.5" r="1.4"/><circle cx="288.6" cy="197.3" r="1.4"/><circle cx="292.9" cy="199.2" r="1.4"/><circle cx="301.7" cy="191.8" r="1.4"/><circle cx="297.7" cy="190.1" r="1.4"/><circle cx="296.0" cy="193.4" r="1.4"/><circle cx="295.8" cy="194.8" r="1.4"/><circle cx="295.3" cy="196.5" r="1.4"/><circle cx="298.1" cy="192.5" r="1.4"/><circle cx="300.9" cy="193.3" r="1.4"/><circle cx="294.2" cy="198.4" r="1.4"/><circle cx="301.5" cy="198.8" r="1.4"/><circle cx="296.9" cy="192.6" r="1.4"/><circle cx="301.0" cy="191.5" r="1.4"/><circle cx="303.7" cy="196.5" r="1.4"/><circle cx="299.5" cy="190.5" r="1.4"/><circle cx="296.8" cy="194.2" r="1.4"/><circle cx="303.8" cy="191.4" r="1.4"/><circle cx="299.9" cy="190.8" r="1.4"/><circle cx="303.7" cy="197.5" r="1.4"/><circle cx="302.1" cy="197.5" r="1.4"/><circle cx="295.8" cy="192.4" r="1.4"/><circle cx="294.4" cy="195.5" r="1.4"/><circle cx="304.8" cy="191.9" r="1.4"/><circle cx="305.7" cy="199.2" r="1.4"/><circle cx="311.9" cy="192.9" r="1.4"/><circle cx="313.7" cy="191.6" r="1.4"/><circle cx="305.4" cy="193.8" r="1.4"/><circle cx="312.1" cy="191.0" r="1.4"/><circle cx="311.9" cy="195.4" r="1.4"/><circle cx="312.0" cy="193.4" r="1.4"/><circle cx="304.4" cy="191.0" r="1.4"/><circle cx="311.2" cy="195.1" r="1.4"/><circle cx="311.6" cy="192.0" r="1.4"/><circle cx="306.8" cy="192.1" r="1.4"/><circle cx="312.5" cy="197.0" r="1.4"/><circle cx="305.5" cy="197.3" r="1.4"/><circle cx="304.4" cy="194.7" r="1.4"/><circle cx="306.6" cy="197.6" r="1.4"/><circle cx="311.2" cy="196.8" r="1.4"/><circle cx="306.0" cy="190.4" r="1.4"/><circle cx="240.4" cy="206.9" r="1.4"/><circle cx="234.1" cy="208.4" r="1.4"/><circle cx="243.0" cy="203.6" r="1.4"/><circle cx="239.2" cy="206.5" r="1.4"/><circle cx="243.3" cy="206.5" r="1.4"/><circle cx="239.2" cy="207.7" r="1.4"/><circle cx="238.9" cy="200.3" r="1.4"/><circle cx="239.5" cy="204.1" r="1.4"/><circle cx="237.4" cy="203.9" r="1.4"/><circle cx="246.2" cy="203.1" r="1.4"/><circle cx="251.5" cy="208.9" r="1.4"/><circle cx="248.6" cy="208.5" r="1.4"/><circle cx="245.3" cy="205.2" r="1.4"/><circle cx="251.4" cy="207.8" r="1.4"/><circle cx="247.9" cy="201.7" r="1.4"/><circle cx="253.6" cy="206.1" r="1.4"/><circle cx="250.5" cy="203.5" r="1.4"/><circle cx="245.1" cy="205.7" r="1.4"/><circle cx="248.0" cy="208.9" r="1.4"/><circle cx="250.6" cy="207.6" r="1.4"/><circle cx="249.7" cy="207.5" r="1.4"/><circle cx="245.3" cy="210.0" r="1.4"/><circle cx="259.8" cy="206.0" r="1.4"/><circle cx="255.9" cy="200.9" r="1.4"/><circle cx="261.1" cy="207.3" r="1.4"/><circle cx="260.7" cy="202.5" r="1.4"/><circle cx="258.9" cy="207.7" r="1.4"/><circle cx="260.4" cy="209.1" r="1.4"/><circle cx="254.9" cy="207.7" r="1.4"/><circle cx="254.1" cy="206.3" r="1.4"/><circle cx="259.3" cy="200.7" r="1.4"/><circle cx="258.2" cy="206.7" r="1.4"/><circle cx="262.7" cy="200.8" r="1.4"/><circle cx="259.1" cy="208.0" r="1.4"/><circle cx="255.2" cy="208.9" r="1.4"/><circle cx="263.4" cy="203.4" r="1.4"/><circle cx="256.1" cy="201.5" r="1.4"/><circle cx="256.2" cy="204.2" r="1.4"/><circle cx="271.1" cy="209.4" r="1.4"/><circle cx="269.6" cy="209.5" r="1.4"/><circle cx="268.3" cy="206.6" r="1.4"/><circle cx="264.0" cy="204.2" r="1.4"/><circle cx="264.2" cy="201.3" r="1.4"/><circle cx="272.1" cy="201.1" r="1.4"/><circle cx="267.0" cy="205.3" r="1.4"/><circle cx="269.3" cy="200.3" r="1.4"/><circle cx="265.1" cy="206.8" r="1.4"/><circle cx="268.0" cy="200.9" r="1.4"/><circle cx="268.8" cy="203.7" r="1.4"/><circle cx="274.0" cy="200.5" r="1.4"/><circle cx="265.8" cy="200.7" r="1.4"/><circle cx="269.5" cy="209.6" r="1.4"/><circle cx="271.8" cy="201.1" r="1.4"/><circle cx="269.4" cy="203.6" r="1.4"/><circle cx="273.8" cy="207.1" r="1.4"/><circle cx="280.0" cy="202.6" r="1.4"/><circle cx="278.4" cy="205.3" r="1.4"/><circle cx="277.8" cy="205.6" r="1.4"/><circle cx="274.9" cy="204.2" r="1.4"/><circle cx="283.9" cy="204.0" r="1.4"/><circle cx="279.1" cy="207.5" r="1.4"/><circle cx="282.1" cy="207.4" r="1.4"/><circle cx="277.8" cy="207.1" r="1.4"/><circle cx="276.0" cy="206.2" r="1.4"/><circle cx="274.2" cy="201.9" r="1.4"/><circle cx="275.8" cy="203.5" r="1.4"/><circle cx="281.4" cy="200.2" r="1.4"/><circle cx="282.8" cy="200.9" r="1.4"/><circle cx="283.5" cy="209.5" r="1.4"/><circle cx="280.1" cy="208.4" r="1.4"/><circle cx="283.4" cy="204.5" r="1.4"/><circle cx="282.6" cy="200.3" r="1.4"/><circle cx="291.8" cy="206.5" r="1.4"/><circle cx="291.8" cy="201.5" r="1.4"/><circle cx="284.8" cy="205.2" r="1.4"/><circle cx="290.1" cy="206.9" r="1.4"/><circle cx="285.8" cy="205.7" r="1.4"/><circle cx="293.7" cy="202.5" r="1.4"/><circle cx="292.2" cy="209.6" r="1.4"/><circle cx="290.7" cy="204.4" r="1.4"/><circle cx="288.2" cy="204.7" r="1.4"/><circle cx="285.2" cy="200.7" r="1.4"/><circle cx="286.8" cy="201.7" r="1.4"/><circle cx="293.0" cy="203.6" r="1.4"/><circle cx="292.8" cy="205.6" r="1.4"/><circle cx="293.0" cy="209.0" r="1.4"/><circle cx="291.1" cy="204.5" r="1.4"/><circle cx="286.4" cy="205.6" r="1.4"/><circle cx="287.1" cy="208.3" r="1.4"/><circle cx="284.4" cy="206.4" r="1.4"/><circle cx="287.4" cy="204.2" r="1.4"/><circle cx="299.4" cy="209.8" r="1.4"/><circle cx="303.9" cy="203.6" r="1.4"/><circle cx="303.6" cy="209.6" r="1.4"/><circle cx="299.3" cy="205.6" r="1.4"/><circle cx="296.0" cy="207.9" r="1.4"/><circle cx="298.9" cy="207.6" r="1.4"/><circle cx="303.2" cy="206.2" r="1.4"/><circle cx="301.0" cy="205.5" r="1.4"/><circle cx="295.3" cy="204.6" r="1.4"/><circle cx="294.6" cy="201.8" r="1.4"/><circle cx="303.8" cy="203.8" r="1.4"/><circle cx="295.4" cy="204.4" r="1.4"/><circle cx="294.6" cy="206.1" r="1.4"/><circle cx="296.3" cy="202.2" r="1.4"/><circle cx="300.4" cy="209.3" r="1.4"/><circle cx="294.1" cy="207.2" r="1.4"/><circle cx="299.8" cy="204.9" r="1.4"/><circle cx="298.2" cy="200.1" r="1.4"/><circle cx="297.5" cy="205.2" r="1.4"/><circle cx="307.4" cy="209.9" r="1.4"/><circle cx="307.4" cy="208.5" r="1.4"/><circle cx="312.1" cy="207.9" r="1.4"/><circle cx="308.9" cy="205.0" r="1.4"/><circle cx="312.4" cy="201.2" r="1.4"/><circle cx="306.2" cy="200.1" r="1.4"/><circle cx="308.9" cy="204.5" r="1.4"/><circle cx="313.6" cy="209.3" r="1.4"/><circle cx="308.1" cy="205.0" r="1.4"/><circle cx="305.1" cy="207.5" r="1.4"/><circle cx="309.2" cy="201.7" r="1.4"/><circle cx="312.8" cy="200.4" r="1.4"/><circle cx="305.9" cy="204.8" r="1.4"/><circle cx="314.0" cy="201.4" r="1.4"/><circle cx="306.7" cy="207.9" r="1.4"/><circle cx="307.4" cy="209.3" r="1.4"/><circle cx="304.2" cy="202.4" r="1.4"/><circle cx="237.1" cy="218.5" r="1.4"/><circle cx="235.0" cy="216.7" r="1.4"/><circle cx="242.9" cy="219.7" r="1.4"/><circle cx="242.1" cy="210.5" r="1.4"/><circle cx="238.8" cy="212.2" r="1.4"/><circle cx="235.2" cy="212.4" r="1.4"/><circle cx="241.4" cy="215.8" r="1.4"/><circle cx="235.3" cy="212.9" r="1.4"/><circle cx="234.7" cy="219.3" r="1.4"/><circle cx="241.5" cy="214.7" r="1.4"/><circle cx="243.6" cy="219.8" r="1.4"/><circle cx="246.1" cy="212.5" r="1.4"/><circle cx="245.9" cy="216.3" r="1.4"/><circle cx="249.9" cy="215.2" r="1.4"/><circle cx="251.7" cy="215.3" r="1.4"/><circle cx="247.1" cy="216.7" r="1.4"/><circle cx="253.5" cy="210.5" r="1.4"/><circle cx="248.9" cy="211.4" r="1.4"/><circle cx="251.5" cy="214.3" r="1.4"/><circle cx="252.4" cy="216.7" r="1.4"/><circle cx="253.6" cy="215.8" r="1.4"/><circle cx="250.0" cy="219.7" r="1.4"/><circle cx="252.0" cy="213.4" r="1.4"/><circle cx="245.0" cy="219.2" r="1.4"/><circle cx="254.6" cy="219.2" r="1.4"/><circle cx="263.3" cy="216.6" r="1.4"/><circle cx="263.5" cy="216.1" r="1.4"/><circle cx="261.5" cy="216.0" r="1.4"/><circle cx="256.2" cy="210.8" r="1.4"/><circle cx="261.4" cy="214.5" r="1.4"/><circle cx="255.2" cy="215.6" r="1.4"/><circle cx="256.6" cy="212.6" r="1.4"/><circle cx="262.8" cy="216.2" r="1.4"/><circle cx="261.5" cy="218.2" r="1.4"/><circle cx="258.4" cy="214.5" r="1.4"/><circle cx="258.3" cy="213.6" r="1.4"/><circle cx="261.8" cy="218.8" r="1.4"/><circle cx="257.0" cy="217.1" r="1.4"/><circle cx="256.2" cy="210.1" r="1.4"/><circle cx="270.9" cy="217.8" r="1.4"/><circle cx="267.3" cy="219.9" r="1.4"/><circle cx="271.2" cy="213.2" r="1.4"/><circle cx="271.6" cy="218.4" r="1.4"/><circle cx="265.4" cy="219.1" r="1.4"/><circle cx="268.3" cy="212.7" r="1.4"/><circle cx="267.8" cy="215.3" r="1.4"/><circle cx="269.3" cy="212.9" r="1.4"/><circle cx="264.6" cy="216.3" r="1.4"/><circle cx="271.2" cy="217.0" r="1.4"/><circle cx="268.0" cy="218.6" r="1.4"/><circle cx="264.2" cy="211.3" r="1.4"/><circle cx="264.2" cy="215.5" r="1.4"/><circle cx="269.2" cy="212.3" r="1.4"/><circle cx="269.3" cy="210.0" r="1.4"/><circle cx="274.4" cy="219.6" r="1.4"/><circle cx="282.9" cy="210.7" r="1.4"/><circle cx="280.6" cy="215.1" r="1.4"/><circle cx="279.4" cy="218.4" r="1.4"/><circle cx="280.4" cy="219.4" r="1.4"/><circle cx="280.8" cy="219.2" r="1.4"/><circle cx="275.2" cy="218.2" r="1.4"/><circle cx="277.2" cy="219.2" r="1.4"/><circle cx="281.9" cy="219.7" r="1.4"/><circle cx="281.6" cy="213.9" r="1.4"/><circle cx="279.2" cy="217.8" r="1.4"/><circle cx="274.6" cy="215.4" r="1.4"/><circle cx="279.7" cy="217.2" r="1.4"/><circle cx="277.4" cy="216.1" r="1.4"/><circle cx="281.4" cy="213.8" r="1.4"/><circle cx="290.8" cy="219.0" r="1.4"/><circle cx="287.7" cy="215.3" r="1.4"/><circle cx="288.8" cy="218.4" r="1.4"/><circle cx="286.7" cy="212.9" r="1.4"/><circle cx="287.9" cy="216.5" r="1.4"/><circle cx="285.5" cy="219.8" r="1.4"/><circle cx="289.0" cy="217.3" r="1.4"/><circle cx="288.1" cy="210.3" r="1.4"/><circle cx="287.9" cy="215.7" r="1.4"/><circle cx="284.9" cy="219.8" r="1.4"/><circle cx="289.9" cy="214.6" r="1.4"/><circle cx="284.3" cy="212.5" r="1.4"/><circle cx="287.4" cy="216.5" r="1.4"/><circle cx="285.7" cy="214.9" r="1.4"/><circle cx="286.7" cy="215.6" r="1.4"/><circle cx="290.9" cy="215.2" r="1.4"/><circle cx="301.5" cy="216.2" r="1.4"/><circle cx="294.8" cy="216.6" r="1.4"/><circle cx="298.8" cy="217.6" r="1.4"/><circle cx="303.4" cy="213.5" r="1.4"/><circle cx="302.5" cy="212.3" r="1.4"/><circle cx="300.5" cy="210.1" r="1.4"/><circle cx="302.2" cy="214.5" r="1.4"/><circle cx="298.5" cy="215.0" r="1.4"/><circle cx="297.7" cy="212.3" r="1.4"/><circle cx="300.9" cy="216.3" r="1.4"/><circle cx="294.5" cy="212.7" r="1.4"/><circle cx="303.3" cy="212.8" r="1.4"/><circle cx="296.9" cy="215.8" r="1.4"/><circle cx="297.7" cy="219.5" r="1.4"/><circle cx="303.8" cy="211.3" r="1.4"/><circle cx="296.2" cy="211.7" r="1.4"/><circle cx="308.4" cy="212.8" r="1.4"/><circle cx="310.7" cy="218.9" r="1.4"/><circle cx="304.7" cy="210.3" r="1.4"/><circle cx="305.1" cy="213.1" r="1.4"/><circle cx="305.3" cy="214.3" r="1.4"/><circle cx="307.6" cy="217.3" r="1.4"/><circle cx="313.7" cy="219.8" r="1.4"/><circle cx="308.2" cy="216.4" r="1.4"/><circle cx="305.3" cy="216.1" r="1.4"/><circle cx="312.8" cy="218.9" r="1.4"/><circle cx="305.4" cy="211.7" r="1.4"/><circle cx="313.0" cy="217.0" r="1.4"/><circle cx="311.6" cy="210.7" r="1.4"/><circle cx="310.2" cy="210.2" r="1.4"/><circle cx="311.4" cy="217.9" r="1.4"/><circle cx="307.2" cy="210.0" r="1.4"/><circle cx="321.3" cy="170.0" r="1.4"/><circle cx="320.2" cy="163.7" r="1.4"/><circle cx="317.3" cy="168.1" r="1.4"/><circle cx="323.7" cy="163.7" r="1.4"/><circle cx="316.2" cy="170.0" r="1.4"/><circle cx="318.3" cy="164.4" r="1.4"/><circle cx="327.1" cy="167.2" r="1.4"/><circle cx="333.8" cy="164.7" r="1.4"/><circle cx="332.6" cy="164.0" r="1.4"/><circle cx="328.2" cy="168.0" r="1.4"/><circle cx="333.7" cy="167.6" r="1.4"/><circle cx="331.0" cy="168.3" r="1.4"/><circle cx="333.2" cy="169.5" r="1.4"/><circle cx="329.3" cy="163.9" r="1.4"/><circle cx="334.1" cy="165.3" r="1.4"/><circle cx="337.6" cy="160.0" r="1.4"/><circle cx="343.9" cy="163.1" r="1.4"/><circle cx="343.3" cy="160.2" r="1.4"/><circle cx="337.6" cy="167.8" r="1.4"/><circle cx="340.7" cy="166.7" r="1.4"/><circle cx="338.9" cy="160.9" r="1.4"/><circle cx="342.3" cy="167.6" r="1.4"/><circle cx="338.8" cy="165.6" r="1.4"/><circle cx="352.0" cy="164.9" r="1.4"/><circle cx="348.8" cy="164.8" r="1.4"/><circle cx="351.4" cy="167.4" r="1.4"/><circle cx="347.3" cy="167.8" r="1.4"/><circle cx="347.8" cy="166.7" r="1.4"/><circle cx="347.8" cy="169.0" r="1.4"/><circle cx="353.4" cy="167.8" r="1.4"/><circle cx="347.8" cy="163.5" r="1.4"/><circle cx="348.3" cy="166.0" r="1.4"/><circle cx="344.3" cy="165.5" r="1.4"/><circle cx="363.3" cy="160.6" r="1.4"/><circle cx="362.9" cy="165.7" r="1.4"/><circle cx="364.0" cy="167.2" r="1.4"/><circle cx="361.2" cy="167.5" r="1.4"/><circle cx="358.2" cy="161.2" r="1.4"/><circle cx="362.5" cy="168.8" r="1.4"/><circle cx="361.2" cy="162.2" r="1.4"/><circle cx="359.0" cy="165.1" r="1.4"/><circle cx="357.6" cy="164.9" r="1.4"/><circle cx="368.6" cy="169.8" r="1.4"/><circle cx="370.3" cy="169.8" r="1.4"/><circle cx="373.1" cy="161.8" r="1.4"/><circle cx="371.7" cy="163.8" r="1.4"/><circle cx="370.0" cy="165.6" r="1.4"/><circle cx="371.4" cy="163.0" r="1.4"/><circle cx="370.8" cy="163.7" r="1.4"/><circle cx="371.8" cy="164.9" r="1.4"/><circle cx="380.4" cy="170.0" r="1.4"/><circle cx="376.8" cy="160.0" r="1.4"/><circle cx="383.0" cy="165.2" r="1.4"/><circle cx="380.5" cy="168.3" r="1.4"/><circle cx="382.9" cy="163.9" r="1.4"/><circle cx="393.9" cy="163.9" r="1.4"/><circle cx="391.3" cy="168.3" r="1.4"/><circle cx="387.6" cy="164.2" r="1.4"/><circle cx="387.7" cy="163.4" r="1.4"/><circle cx="388.1" cy="168.5" r="1.4"/><circle cx="314.6" cy="179.9" r="1.4"/><circle cx="321.9" cy="175.6" r="1.4"/><circle cx="320.4" cy="173.0" r="1.4"/><circle cx="321.6" cy="178.7" r="1.4"/><circle cx="317.8" cy="175.0" r="1.4"/><circle cx="316.2" cy="172.5" r="1.4"/><circle cx="322.5" cy="176.4" r="1.4"/><circle cx="318.5" cy="176.4" r="1.4"/><circle cx="325.9" cy="170.0" r="1.4"/><circle cx="327.6" cy="175.8" r="1.4"/><circle cx="325.8" cy="175.4" r="1.4"/><circle cx="327.3" cy="172.6" r="1.4"/><circle cx="331.4" cy="173.6" r="1.4"/><circle cx="331.4" cy="177.5" r="1.4"/><circle cx="327.8" cy="170.3" r="1.4"/><circle cx="332.4" cy="175.5" r="1.4"/><circle cx="329.8" cy="176.9" r="1.4"/><circle cx="329.5" cy="179.1" r="1.4"/><circle cx="324.1" cy="179.7" r="1.4"/><circle cx="340.2" cy="174.1" r="1.4"/><circle cx="343.1" cy="179.0" r="1.4"/><circle cx="340.0" cy="170.1" r="1.4"/><circle cx="340.2" cy="174.1" r="1.4"/><circle cx="339.7" cy="178.3" r="1.4"/><circle cx="335.3" cy="178.4" r="1.4"/><circle cx="337.1" cy="172.5" r="1.4"/><circle cx="334.4" cy="171.1" r="1.4"/><circle cx="336.7" cy="175.3" r="1.4"/><circle cx="343.4" cy="171.7" r="1.4"/><circle cx="336.9" cy="173.7" r="1.4"/><circle cx="340.4" cy="173.5" r="1.4"/><circle cx="350.7" cy="171.5" r="1.4"/><circle cx="344.4" cy="175.8" r="1.4"/><circle cx="351.2" cy="171.3" r="1.4"/><circle cx="344.5" cy="176.7" r="1.4"/><circle cx="344.7" cy="179.3" r="1.4"/><circle cx="350.9" cy="171.6" r="1.4"/><circle cx="348.1" cy="170.6" r="1.4"/><circle cx="344.9" cy="173.5" r="1.4"/><circle cx="352.8" cy="179.1" r="1.4"/><circle cx="351.5" cy="176.4" r="1.4"/><circle cx="349.8" cy="175.1" r="1.4"/><circle cx="350.6" cy="175.0" r="1.4"/><circle cx="348.0" cy="178.4" r="1.4"/><circle cx="357.0" cy="174.1" r="1.4"/><circle cx="360.8" cy="179.6" r="1.4"/><circle cx="357.4" cy="174.3" r="1.4"/><circle cx="358.0" cy="172.1" r="1.4"/><circle cx="357.5" cy="177.9" r="1.4"/><circle cx="355.9" cy="174.8" r="1.4"/><circle cx="356.8" cy="175.8" r="1.4"/><circle cx="361.7" cy="171.2" r="1.4"/><circle cx="358.9" cy="171.9" r="1.4"/><circle cx="360.5" cy="176.8" r="1.4"/><circle cx="356.2" cy="172.3" r="1.4"/><circle cx="357.0" cy="173.3" r="1.4"/><circle cx="362.9" cy="178.7" r="1.4"/><circle cx="371.9" cy="173.9" r="1.4"/><circle cx="368.6" cy="172.0" r="1.4"/><circle cx="368.6" cy="179.5" r="1.4"/><circle cx="364.9" cy="173.9" r="1.4"/><circle cx="366.0" cy="178.4" r="1.4"/><circle cx="367.0" cy="174.9" r="1.4"/><circle cx="364.5" cy="176.9" r="1.4"/><circle cx="369.1" cy="178.0" r="1.4"/><circle cx="371.2" cy="177.4" r="1.4"/><circle cx="366.6" cy="172.5" r="1.4"/><circle cx="370.0" cy="170.5" r="1.4"/><circle cx="373.4" cy="177.2" r="1.4"/><circle cx="378.9" cy="173.6" r="1.4"/><circle cx="374.8" cy="175.5" r="1.4"/><circle cx="381.7" cy="171.2" r="1.4"/><circle cx="375.0" cy="176.9" r="1.4"/><circle cx="378.7" cy="177.9" r="1.4"/><circle cx="378.1" cy="179.8" r="1.4"/><circle cx="382.7" cy="173.2" r="1.4"/><circle cx="379.4" cy="175.9" r="1.4"/><circle cx="378.5" cy="178.2" r="1.4"/><circle cx="391.1" cy="178.2" r="1.4"/><circle cx="386.5" cy="175.0" r="1.4"/><circle cx="389.4" cy="175.8" r="1.4"/><circle cx="384.2" cy="178.1" r="1.4"/><circle cx="388.5" cy="171.6" r="1.4"/><circle cx="392.5" cy="175.6" r="1.4"/><circle cx="321.4" cy="187.4" r="1.4"/><circle cx="320.2" cy="189.1" r="1.4"/><circle cx="314.6" cy="183.3" r="1.4"/><circle cx="315.6" cy="186.4" r="1.4"/><circle cx="316.2" cy="180.3" r="1.4"/><circle cx="315.4" cy="181.7" r="1.4"/><circle cx="319.4" cy="184.6" r="1.4"/><circle cx="318.6" cy="180.1" r="1.4"/><circle cx="319.3" cy="182.5" r="1.4"/><circle cx="314.9" cy="180.6" r="1.4"/><circle cx="315.5" cy="184.0" r="1.4"/><circle cx="315.7" cy="184.6" r="1.4"/><circle cx="315.6" cy="187.4" r="1.4"/><circle cx="332.8" cy="183.2" r="1.4"/><circle cx="324.7" cy="189.7" r="1.4"/><circle cx="324.8" cy="186.5" r="1.4"/><circle cx="331.6" cy="184.8" r="1.4"/><circle cx="332.9" cy="181.5" r="1.4"/><circle cx="331.2" cy="189.1" r="1.4"/><circle cx="333.0" cy="188.5" r="1.4"/><circle cx="328.4" cy="185.1" r="1.4"/><circle cx="332.5" cy="183.8" r="1.4"/><circle cx="326.6" cy="180.3" r="1.4"/><circle cx="326.0" cy="181.4" r="1.4"/><circle cx="333.3" cy="183.1" r="1.4"/><circle cx="327.5" cy="189.7" r="1.4"/><circle cx="340.9" cy="184.3" r="1.4"/><circle cx="335.1" cy="183.7" r="1.4"/><circle cx="336.9" cy="189.5" r="1.4"/><circle cx="338.2" cy="189.7" r="1.4"/><circle cx="336.7" cy="180.5" r="1.4"/><circle cx="343.0" cy="180.8" r="1.4"/><circle cx="341.9" cy="186.0" r="1.4"/><circle cx="336.8" cy="188.3" r="1.4"/><circle cx="338.3" cy="189.8" r="1.4"/><circle cx="339.6" cy="189.4" r="1.4"/><circle cx="343.3" cy="183.8" r="1.4"/><circle cx="340.9" cy="187.3" r="1.4"/><circle cx="340.6" cy="180.2" r="1.4"/><circle cx="340.9" cy="187.6" r="1.4"/><circle cx="345.9" cy="181.0" r="1.4"/><circle cx="344.7" cy="185.4" r="1.4"/><circle cx="345.1" cy="188.5" r="1.4"/><circle cx="348.2" cy="190.0" r="1.4"/><circle cx="351.3" cy="184.3" r="1.4"/><circle cx="345.8" cy="184.3" r="1.4"/><circle cx="350.1" cy="188.6" r="1.4"/><circle cx="352.9" cy="183.2" r="1.4"/><circle cx="344.2" cy="186.6" r="1.4"/><circle cx="350.9" cy="186.5" r="1.4"/><circle cx="352.0" cy="188.1" r="1.4"/><circle cx="350.3" cy="188.2" r="1.4"/><circle cx="345.3" cy="189.5" r="1.4"/><circle cx="350.7" cy="180.9" r="1.4"/><circle cx="355.7" cy="186.4" r="1.4"/><circle cx="357.1" cy="189.4" r="1.4"/><circle cx="356.8" cy="184.9" r="1.4"/><circle cx="359.0" cy="189.4" r="1.4"/><circle cx="357.0" cy="188.9" r="1.4"/><circle cx="361.2" cy="185.7" r="1.4"/><circle cx="363.5" cy="188.8" r="1.4"/><circle cx="361.5" cy="185.5" r="1.4"/><circle cx="354.4" cy="182.2" r="1.4"/><circle cx="360.5" cy="181.2" r="1.4"/><circle cx="360.4" cy="183.5" r="1.4"/><circle cx="357.9" cy="188.2" r="1.4"/><circle cx="362.4" cy="187.5" r="1.4"/><circle cx="358.5" cy="185.4" r="1.4"/><circle cx="373.9" cy="189.3" r="1.4"/><circle cx="370.1" cy="180.8" r="1.4"/><circle cx="373.0" cy="180.5" r="1.4"/><circle cx="365.2" cy="186.6" r="1.4"/><circle cx="366.0" cy="187.5" r="1.4"/><circle cx="370.9" cy="181.7" r="1.4"/><circle cx="373.1" cy="190.0" r="1.4"/><circle cx="370.6" cy="189.8" r="1.4"/><circle cx="372.0" cy="184.7" r="1.4"/><circle cx="372.2" cy="189.4" r="1.4"/><circle cx="371.0" cy="180.8" r="1.4"/><circle cx="367.7" cy="187.0" r="1.4"/><circle cx="377.7" cy="181.7" r="1.4"/><circle cx="378.6" cy="181.4" r="1.4"/><circle cx="378.7" cy="181.0" r="1.4"/><circle cx="381.3" cy="182.1" r="1.4"/><circle cx="383.4" cy="181.1" r="1.4"/><circle cx="380.3" cy="186.4" r="1.4"/><circle cx="376.0" cy="186.3" r="1.4"/><circle cx="379.5" cy="186.2" r="1.4"/><circle cx="375.9" cy="184.8" r="1.4"/><circle cx="382.4" cy="186.2" r="1.4"/><circle cx="386.4" cy="183.3" r="1.4"/><circle cx="392.8" cy="180.5" r="1.4"/><circle cx="388.8" cy="185.1" r="1.4"/><circle cx="388.3" cy="180.0" r="1.4"/><circle cx="385.1" cy="188.4" r="1.4"/><circle cx="388.6" cy="182.9" r="1.4"/><circle cx="318.5" cy="190.5" r="1.4"/><circle cx="314.8" cy="198.3" r="1.4"/><circle cx="321.6" cy="192.0" r="1.4"/><circle cx="317.2" cy="190.8" r="1.4"/><circle cx="317.2" cy="195.2" r="1.4"/><circle cx="321.5" cy="195.1" r="1.4"/><circle cx="322.5" cy="200.0" r="1.4"/><circle cx="319.7" cy="190.4" r="1.4"/><circle cx="315.3" cy="196.7" r="1.4"/><circle cx="315.3" cy="199.0" r="1.4"/><circle cx="314.5" cy="190.6" r="1.4"/><circle cx="324.0" cy="194.1" r="1.4"/><circle cx="319.6" cy="196.0" r="1.4"/><circle cx="325.2" cy="193.4" r="1.4"/><circle cx="327.7" cy="197.4" r="1.4"/><circle cx="331.8" cy="196.9" r="1.4"/><circle cx="325.8" cy="194.6" r="1.4"/><circle cx="333.2" cy="191.7" r="1.4"/><circle cx="327.5" cy="196.2" r="1.4"/><circle cx="334.0" cy="190.3" r="1.4"/><circle cx="330.9" cy="194.6" r="1.4"/><circle cx="329.3" cy="198.4" r="1.4"/><circle cx="325.0" cy="196.0" r="1.4"/><circle cx="327.2" cy="197.6" r="1.4"/><circle cx="331.1" cy="194.2" r="1.4"/><circle cx="335.5" cy="197.6" r="1.4"/><circle cx="341.0" cy="195.6" r="1.4"/><circle cx="341.5" cy="199.5" r="1.4"/><circle cx="336.4" cy="196.9" r="1.4"/><circle cx="342.1" cy="192.7" r="1.4"/><circle cx="343.0" cy="193.1" r="1.4"/><circle cx="343.6" cy="195.8" r="1.4"/><circle cx="343.7" cy="198.8" r="1.4"/><circle cx="341.8" cy="193.7" r="1.4"/><circle cx="338.6" cy="195.9" r="1.4"/><circle cx="342.1" cy="194.2" r="1.4"/><circle cx="343.0" cy="192.2" r="1.4"/><circle cx="349.2" cy="191.5" r="1.4"/><circle cx="345.7" cy="192.9" r="1.4"/><circle cx="344.5" cy="195.7" r="1.4"/><circle cx="350.2" cy="194.0" r="1.4"/><circle cx="352.0" cy="195.5" r="1.4"/><circle cx="350.8" cy="190.9" r="1.4"/><circle cx="347.3" cy="190.2" r="1.4"/><circle cx="345.6" cy="198.5" r="1.4"/><circle cx="345.4" cy="196.0" r="1.4"/><circle cx="347.8" cy="196.7" r="1.4"/><circle cx="352.7" cy="198.3" r="1.4"/><circle cx="363.6" cy="199.7" r="1.4"/><circle cx="358.0" cy="199.9" r="1.4"/><circle cx="361.6" cy="192.8" r="1.4"/><circle cx="357.3" cy="195.2" r="1.4"/><circle cx="362.5" cy="191.0" r="1.4"/><circle cx="362.9" cy="196.7" r="1.4"/><circle cx="359.9" cy="194.1" r="1.4"/><circle cx="357.8" cy="194.1" r="1.4"/><circle cx="361.2" cy="194.4" r="1.4"/><circle cx="361.1" cy="198.8" r="1.4"/><circle cx="364.9" cy="190.2" r="1.4"/><circle cx="373.4" cy="191.9" r="1.4"/><circle cx="372.1" cy="194.0" r="1.4"/><circle cx="366.2" cy="190.1" r="1.4"/><circle cx="368.3" cy="196.0" r="1.4"/><circle cx="364.5" cy="190.1" r="1.4"/><circle cx="366.9" cy="198.8" r="1.4"/><circle cx="371.5" cy="192.6" r="1.4"/><circle cx="368.0" cy="194.2" r="1.4"/><circle cx="381.1" cy="192.8" r="1.4"/><circle cx="377.6" cy="195.0" r="1.4"/><circle cx="376.4" cy="194.3" r="1.4"/><circle cx="381.5" cy="195.0" r="1.4"/><circle cx="374.6" cy="193.5" r="1.4"/><circle cx="379.7" cy="192.3" r="1.4"/><circle cx="387.9" cy="195.6" r="1.4"/><circle cx="387.6" cy="191.8" r="1.4"/><circle cx="392.7" cy="190.7" r="1.4"/><circle cx="393.1" cy="190.9" r="1.4"/><circle cx="319.5" cy="205.5" r="1.4"/><circle cx="318.1" cy="206.3" r="1.4"/><circle cx="322.8" cy="203.2" r="1.4"/><circle cx="314.6" cy="202.0" r="1.4"/><circle cx="322.8" cy="206.0" r="1.4"/><circle cx="321.5" cy="203.9" r="1.4"/><circle cx="317.2" cy="206.9" r="1.4"/><circle cx="319.7" cy="209.1" r="1.4"/><circle cx="315.6" cy="203.4" r="1.4"/><circle cx="320.9" cy="209.1" r="1.4"/><circle cx="318.7" cy="207.9" r="1.4"/><circle cx="325.1" cy="206.4" r="1.4"/><circle cx="327.3" cy="206.9" r="1.4"/><circle cx="327.0" cy="201.9" r="1.4"/><circle cx="326.7" cy="207.2" r="1.4"/><circle cx="331.1" cy="209.1" r="1.4"/><circle cx="328.1" cy="200.7" r="1.4"/><circle cx="332.1" cy="202.6" r="1.4"/><circle cx="331.2" cy="204.9" r="1.4"/><circle cx="328.4" cy="200.3" r="1.4"/><circle cx="336.3" cy="207.5" r="1.4"/><circle cx="338.6" cy="208.8" r="1.4"/><circle cx="342.1" cy="205.3" r="1.4"/><circle cx="343.8" cy="200.0" r="1.4"/><circle cx="338.0" cy="205.3" r="1.4"/><circle cx="334.5" cy="208.7" r="1.4"/><circle cx="335.5" cy="205.8" r="1.4"/><circle cx="336.7" cy="203.8" r="1.4"/><circle cx="348.7" cy="202.9" r="1.4"/><circle cx="345.7" cy="206.7" r="1.4"/><circle cx="350.3" cy="200.8" r="1.4"/><circle cx="353.7" cy="201.1" r="1.4"/><circle cx="346.2" cy="202.8" r="1.4"/><circle cx="347.6" cy="204.9" r="1.4"/><circle cx="353.0" cy="201.0" r="1.4"/><circle cx="359.7" cy="206.2" r="1.4"/><circle cx="356.6" cy="203.6" r="1.4"/><circle cx="358.4" cy="208.9" r="1.4"/><circle cx="361.8" cy="204.8" r="1.4"/><circle cx="354.7" cy="203.6" r="1.4"/><circle cx="372.2" cy="204.3" r="1.4"/><circle cx="367.9" cy="206.4" r="1.4"/><circle cx="364.4" cy="206.5" r="1.4"/><circle cx="370.9" cy="201.1" r="1.4"/><circle cx="368.2" cy="208.6" r="1.4"/><circle cx="376.6" cy="205.3" r="1.4"/><circle cx="377.5" cy="205.5" r="1.4"/><circle cx="377.9" cy="203.4" r="1.4"/><circle cx="383.2" cy="206.9" r="1.4"/><circle cx="394.0" cy="203.3" r="1.4"/><circle cx="388.7" cy="203.7" r="1.4"/><circle cx="392.7" cy="203.7" r="1.4"/><circle cx="390.8" cy="201.8" r="1.4"/><circle cx="319.4" cy="212.7" r="1.4"/><circle cx="323.1" cy="213.7" r="1.4"/><circle cx="323.5" cy="215.7" r="1.4"/><circle cx="317.4" cy="215.5" r="1.4"/><circle cx="323.3" cy="216.9" r="1.4"/><circle cx="322.2" cy="215.7" r="1.4"/><circle cx="320.2" cy="211.4" r="1.4"/><circle cx="322.3" cy="216.4" r="1.4"/><circle cx="320.5" cy="213.0" r="1.4"/><circle cx="331.6" cy="215.3" r="1.4"/><circle cx="327.2" cy="219.9" r="1.4"/><circle cx="331.7" cy="216.8" r="1.4"/><circle cx="332.4" cy="217.0" r="1.4"/><circle cx="327.8" cy="219.6" r="1.4"/><circle cx="333.1" cy="216.7" r="1.4"/><circle cx="328.3" cy="215.0" r="1.4"/><circle cx="334.5" cy="218.9" r="1.4"/><circle cx="342.3" cy="215.9" r="1.4"/><circle cx="338.7" cy="218.0" r="1.4"/><circle cx="334.2" cy="214.0" r="1.4"/><circle cx="336.5" cy="216.1" r="1.4"/><circle cx="347.5" cy="216.1" r="1.4"/><circle cx="353.0" cy="214.1" r="1.4"/><circle cx="345.1" cy="210.1" r="1.4"/><circle cx="352.4" cy="214.7" r="1.4"/><circle cx="348.4" cy="210.3" r="1.4"/><circle cx="355.0" cy="210.0" r="1.4"/><circle cx="363.0" cy="210.5" r="1.4"/><circle cx="357.2" cy="214.7" r="1.4"/><circle cx="369.7" cy="212.2" r="1.4"/><circle cx="370.5" cy="216.4" r="1.4"/><circle cx="373.8" cy="210.9" r="1.4"/><circle cx="377.0" cy="211.0" r="1.4"/><circle cx="376.9" cy="212.1" r="1.4"/><circle cx="374.3" cy="218.1" r="1.4"/><circle cx="386.8" cy="217.4" r="1.4"/><circle cx="392.1" cy="218.0" r="1.4"/><circle cx="384.2" cy="215.9" r="1.4"/><circle cx="242.5" cy="226.3" r="1.4"/><circle cx="240.0" cy="224.3" r="1.4"/><circle cx="242.2" cy="225.3" r="1.4"/><circle cx="237.5" cy="225.0" r="1.4"/><circle cx="238.7" cy="221.9" r="1.4"/><circle cx="240.7" cy="228.3" r="1.4"/><circle cx="240.5" cy="220.1" r="1.4"/><circle cx="238.1" cy="227.7" r="1.4"/><circle cx="235.3" cy="225.1" r="1.4"/><circle cx="240.8" cy="225.3" r="1.4"/><circle cx="237.3" cy="220.2" r="1.4"/><circle cx="241.0" cy="221.7" r="1.4"/><circle cx="250.0" cy="225.2" r="1.4"/><circle cx="251.2" cy="221.1" r="1.4"/><circle cx="253.7" cy="227.5" r="1.4"/><circle cx="252.7" cy="221.8" r="1.4"/><circle cx="251.2" cy="223.8" r="1.4"/><circle cx="251.0" cy="227.0" r="1.4"/><circle cx="248.1" cy="229.5" r="1.4"/><circle cx="248.4" cy="224.7" r="1.4"/><circle cx="251.2" cy="221.5" r="1.4"/><circle cx="253.0" cy="223.3" r="1.4"/><circle cx="252.9" cy="221.5" r="1.4"/><circle cx="245.2" cy="225.9" r="1.4"/><circle cx="246.4" cy="224.4" r="1.4"/><circle cx="256.0" cy="227.2" r="1.4"/><circle cx="261.4" cy="226.9" r="1.4"/><circle cx="255.3" cy="220.5" r="1.4"/><circle cx="259.8" cy="220.8" r="1.4"/><circle cx="261.2" cy="225.5" r="1.4"/><circle cx="263.3" cy="228.2" r="1.4"/><circle cx="260.6" cy="228.3" r="1.4"/><circle cx="259.1" cy="222.9" r="1.4"/><circle cx="254.6" cy="227.0" r="1.4"/><circle cx="260.7" cy="226.3" r="1.4"/><circle cx="259.1" cy="224.6" r="1.4"/><circle cx="263.2" cy="223.8" r="1.4"/><circle cx="255.4" cy="229.5" r="1.4"/><circle cx="271.6" cy="229.0" r="1.4"/><circle cx="273.9" cy="224.4" r="1.4"/><circle cx="265.6" cy="224.9" r="1.4"/><circle cx="268.9" cy="223.9" r="1.4"/><circle cx="271.9" cy="222.5" r="1.4"/><circle cx="273.7" cy="222.1" r="1.4"/><circle cx="266.8" cy="228.3" r="1.4"/><circle cx="266.3" cy="227.2" r="1.4"/><circle cx="266.7" cy="224.1" r="1.4"/><circle cx="268.7" cy="222.5" r="1.4"/><circle cx="282.2" cy="229.4" r="1.4"/><circle cx="283.2" cy="221.6" r="1.4"/><circle cx="274.3" cy="224.4" r="1.4"/><circle cx="281.4" cy="225.5" r="1.4"/><circle cx="283.6" cy="229.9" r="1.4"/><circle cx="280.8" cy="222.6" r="1.4"/><circle cx="278.0" cy="220.7" r="1.4"/><circle cx="277.9" cy="227.5" r="1.4"/><circle cx="277.2" cy="221.9" r="1.4"/><circle cx="279.4" cy="229.0" r="1.4"/><circle cx="280.5" cy="221.1" r="1.4"/><circle cx="278.3" cy="222.3" r="1.4"/><circle cx="292.1" cy="224.2" r="1.4"/><circle cx="288.4" cy="228.8" r="1.4"/><circle cx="287.0" cy="224.5" r="1.4"/><circle cx="293.8" cy="223.1" r="1.4"/><circle cx="289.4" cy="226.5" r="1.4"/><circle cx="287.3" cy="226.3" r="1.4"/><circle cx="288.2" cy="228.3" r="1.4"/><circle cx="289.6" cy="227.3" r="1.4"/><circle cx="289.7" cy="227.0" r="1.4"/><circle cx="287.9" cy="221.5" r="1.4"/><circle cx="287.6" cy="223.3" r="1.4"/><circle cx="284.1" cy="227.7" r="1.4"/><circle cx="299.2" cy="224.8" r="1.4"/><circle cx="301.0" cy="220.7" r="1.4"/><circle cx="295.3" cy="227.2" r="1.4"/><circle cx="294.4" cy="228.7" r="1.4"/><circle cx="299.1" cy="229.7" r="1.4"/><circle cx="302.6" cy="224.1" r="1.4"/><circle cx="297.4" cy="224.3" r="1.4"/><circle cx="301.7" cy="224.6" r="1.4"/><circle cx="301.2" cy="229.9" r="1.4"/><circle cx="301.5" cy="225.1" r="1.4"/><circle cx="311.4" cy="224.9" r="1.4"/><circle cx="309.8" cy="224.2" r="1.4"/><circle cx="313.4" cy="229.9" r="1.4"/><circle cx="309.7" cy="225.6" r="1.4"/><circle cx="305.0" cy="225.7" r="1.4"/><circle cx="313.3" cy="222.4" r="1.4"/><circle cx="311.7" cy="222.5" r="1.4"/><circle cx="311.1" cy="222.8" r="1.4"/><circle cx="310.0" cy="227.8" r="1.4"/><circle cx="304.3" cy="228.4" r="1.4"/><circle cx="309.2" cy="222.4" r="1.4"/><circle cx="307.1" cy="225.5" r="1.4"/><circle cx="241.4" cy="231.8" r="1.4"/><circle cx="234.7" cy="232.3" r="1.4"/><circle cx="240.3" cy="234.0" r="1.4"/><circle cx="241.6" cy="237.3" r="1.4"/><circle cx="237.7" cy="235.9" r="1.4"/><circle cx="235.5" cy="236.1" r="1.4"/><circle cx="240.5" cy="232.4" r="1.4"/><circle cx="240.7" cy="231.4" r="1.4"/><circle cx="243.7" cy="235.5" r="1.4"/><circle cx="243.2" cy="236.7" r="1.4"/><circle cx="246.1" cy="237.3" r="1.4"/><circle cx="250.1" cy="233.8" r="1.4"/><circle cx="250.9" cy="237.6" r="1.4"/><circle cx="250.8" cy="232.2" r="1.4"/><circle cx="253.7" cy="239.1" r="1.4"/><circle cx="248.3" cy="239.3" r="1.4"/><circle cx="253.9" cy="233.4" r="1.4"/><circle cx="245.9" cy="232.4" r="1.4"/><circle cx="248.9" cy="231.4" r="1.4"/><circle cx="246.4" cy="237.3" r="1.4"/><circle cx="244.2" cy="236.1" r="1.4"/><circle cx="258.1" cy="237.1" r="1.4"/><circle cx="256.6" cy="234.8" r="1.4"/><circle cx="256.1" cy="230.2" r="1.4"/><circle cx="262.6" cy="233.7" r="1.4"/><circle cx="257.0" cy="239.3" r="1.4"/><circle cx="257.7" cy="235.4" r="1.4"/><circle cx="255.4" cy="234.1" r="1.4"/><circle cx="262.8" cy="238.2" r="1.4"/><circle cx="262.2" cy="239.1" r="1.4"/><circle cx="256.3" cy="230.5" r="1.4"/><circle cx="265.3" cy="236.5" r="1.4"/><circle cx="269.5" cy="233.7" r="1.4"/><circle cx="271.1" cy="232.2" r="1.4"/><circle cx="270.1" cy="234.2" r="1.4"/><circle cx="265.4" cy="237.8" r="1.4"/><circle cx="265.8" cy="238.0" r="1.4"/><circle cx="271.6" cy="234.4" r="1.4"/><circle cx="268.5" cy="232.1" r="1.4"/><circle cx="275.4" cy="237.0" r="1.4"/><circle cx="277.7" cy="235.6" r="1.4"/><circle cx="277.7" cy="232.7" r="1.4"/><circle cx="275.6" cy="237.6" r="1.4"/><circle cx="278.3" cy="231.5" r="1.4"/><circle cx="282.7" cy="231.5" r="1.4"/><circle cx="276.3" cy="231.6" r="1.4"/><circle cx="279.6" cy="237.8" r="1.4"/><circle cx="274.3" cy="239.2" r="1.4"/><circle cx="281.0" cy="238.3" r="1.4"/><circle cx="288.2" cy="234.4" r="1.4"/><circle cx="284.9" cy="232.6" r="1.4"/><circle cx="292.7" cy="232.9" r="1.4"/><circle cx="293.0" cy="238.3" r="1.4"/><circle cx="293.2" cy="231.4" r="1.4"/><circle cx="288.2" cy="238.3" r="1.4"/><circle cx="287.1" cy="232.4" r="1.4"/><circle cx="284.2" cy="235.3" r="1.4"/><circle cx="289.5" cy="232.1" r="1.4"/><circle cx="296.6" cy="236.3" r="1.4"/><circle cx="295.7" cy="237.9" r="1.4"/><circle cx="302.7" cy="234.2" r="1.4"/><circle cx="295.3" cy="235.7" r="1.4"/><circle cx="297.0" cy="231.1" r="1.4"/><circle cx="301.1" cy="235.6" r="1.4"/><circle cx="296.7" cy="232.5" r="1.4"/><circle cx="301.2" cy="239.2" r="1.4"/><circle cx="307.5" cy="235.9" r="1.4"/><circle cx="306.2" cy="234.7" r="1.4"/><circle cx="309.8" cy="233.1" r="1.4"/><circle cx="310.0" cy="235.4" r="1.4"/><circle cx="304.4" cy="231.2" r="1.4"/><circle cx="308.1" cy="231.5" r="1.4"/><circle cx="309.5" cy="235.9" r="1.4"/><circle cx="310.3" cy="238.9" r="1.4"/><circle cx="310.1" cy="237.7" r="1.4"/><circle cx="235.2" cy="248.7" r="1.4"/><circle cx="243.3" cy="245.9" r="1.4"/><circle cx="242.3" cy="245.5" r="1.4"/><circle cx="238.3" cy="241.6" r="1.4"/><circle cx="238.8" cy="247.1" r="1.4"/><circle cx="241.9" cy="248.9" r="1.4"/><circle cx="239.2" cy="249.4" r="1.4"/><circle cx="247.7" cy="240.2" r="1.4"/><circle cx="248.3" cy="245.4" r="1.4"/><circle cx="251.7" cy="242.3" r="1.4"/><circle cx="244.3" cy="247.2" r="1.4"/><circle cx="245.9" cy="248.5" r="1.4"/><circle cx="249.7" cy="241.4" r="1.4"/><circle cx="249.2" cy="247.7" r="1.4"/><circle cx="256.2" cy="249.6" r="1.4"/><circle cx="254.6" cy="241.5" r="1.4"/><circle cx="259.9" cy="246.8" r="1.4"/><circle cx="260.0" cy="249.2" r="1.4"/><circle cx="256.0" cy="240.5" r="1.4"/><circle cx="259.4" cy="243.5" r="1.4"/><circle cx="258.0" cy="244.0" r="1.4"/><circle cx="272.8" cy="242.9" r="1.4"/><circle cx="270.9" cy="245.7" r="1.4"/><circle cx="266.8" cy="249.1" r="1.4"/><circle cx="266.6" cy="243.0" r="1.4"/><circle cx="265.9" cy="247.0" r="1.4"/><circle cx="270.9" cy="243.7" r="1.4"/><circle cx="275.2" cy="246.0" r="1.4"/><circle cx="277.4" cy="245.5" r="1.4"/><circle cx="280.6" cy="240.0" r="1.4"/><circle cx="274.5" cy="248.2" r="1.4"/><circle cx="282.7" cy="240.9" r="1.4"/><circle cx="286.2" cy="244.3" r="1.4"/><circle cx="292.3" cy="243.1" r="1.4"/><circle cx="293.6" cy="240.9" r="1.4"/><circle cx="293.1" cy="240.6" r="1.4"/><circle cx="290.0" cy="249.7" r="1.4"/><circle cx="301.2" cy="249.1" r="1.4"/><circle cx="297.5" cy="249.6" r="1.4"/><circle cx="303.0" cy="242.7" r="1.4"/><circle cx="301.7" cy="249.2" r="1.4"/><circle cx="296.1" cy="243.9" r="1.4"/><circle cx="311.7" cy="245.7" r="1.4"/><circle cx="313.2" cy="244.3" r="1.4"/><circle cx="308.5" cy="241.7" r="1.4"/><circle cx="306.7" cy="248.7" r="1.4"/><circle cx="306.6" cy="249.0" r="1.4"/><circle cx="242.0" cy="255.7" r="1.4"/><circle cx="237.0" cy="250.0" r="1.4"/><circle cx="235.2" cy="258.3" r="1.4"/><circle cx="243.6" cy="259.6" r="1.4"/><circle cx="246.8" cy="259.4" r="1.4"/><circle cx="248.4" cy="253.7" r="1.4"/><circle cx="253.1" cy="258.2" r="1.4"/><circle cx="250.8" cy="252.9" r="1.4"/><circle cx="255.1" cy="251.8" r="1.4"/><circle cx="256.6" cy="251.9" r="1.4"/><circle cx="259.7" cy="253.1" r="1.4"/><circle cx="256.2" cy="258.8" r="1.4"/><circle cx="267.7" cy="250.0" r="1.4"/><circle cx="264.1" cy="255.5" r="1.4"/><circle cx="264.3" cy="255.6" r="1.4"/><circle cx="274.3" cy="254.7" r="1.4"/><circle cx="280.2" cy="255.4" r="1.4"/><circle cx="276.2" cy="258.4" r="1.4"/><circle cx="293.7" cy="258.1" r="1.4"/><circle cx="293.3" cy="259.7" r="1.4"/><circle cx="287.7" cy="255.4" r="1.4"/><circle cx="298.1" cy="257.9" r="1.4"/><circle cx="295.7" cy="252.3" r="1.4"/><circle cx="298.5" cy="255.4" r="1.4"/><circle cx="313.9" cy="253.4" r="1.4"/><circle cx="304.0" cy="253.9" r="1.4"/><circle cx="312.8" cy="251.0" r="1.4"/><circle cx="239.2" cy="266.0" r="1.4"/><circle cx="242.4" cy="263.3" r="1.4"/><circle cx="250.1" cy="269.5" r="1.4"/><circle cx="253.7" cy="265.6" r="1.4"/><circle cx="257.4" cy="266.5" r="1.4"/><circle cx="261.3" cy="266.8" r="1.4"/><circle cx="270.8" cy="263.8" r="1.4"/><circle cx="271.2" cy="263.5" r="1.4"/><circle cx="276.3" cy="261.0" r="1.4"/><circle cx="279.5" cy="261.7" r="1.4"/><circle cx="286.8" cy="263.0" r="1.4"/><circle cx="287.7" cy="264.2" r="1.4"/><circle cx="303.7" cy="265.3" r="1.4"/><circle cx="299.5" cy="264.0" r="1.4"/><circle cx="309.5" cy="268.1" r="1.4"/><circle cx="309.2" cy="265.1" r="1.4"/><circle cx="237.5" cy="271.9" r="1.4"/><circle cx="236.1" cy="270.9" r="1.4"/><circle cx="246.8" cy="270.4" r="1.4"/><circle cx="248.2" cy="275.7" r="1.4"/><circle cx="255.1" cy="277.6" r="1.4"/><circle cx="268.5" cy="276.2" r="1.4"/><circle cx="278.3" cy="277.9" r="1.4"/><circle cx="290.8" cy="271.2" r="1.4"/><circle cx="299.5" cy="272.6" r="1.4"/><circle cx="311.5" cy="273.7" r="1.4"/><circle cx="214.5" cy="24.1" r="1.4"/><circle cx="218.3" cy="26.8" r="1.4"/><circle cx="231.8" cy="29.7" r="1.4"/><circle cx="237.2" cy="20.8" r="1.4"/><circle cx="236.2" cy="20.0" r="1.4"/><circle cx="236.7" cy="26.2" r="1.4"/><circle cx="242.9" cy="21.0" r="1.4"/><circle cx="246.7" cy="28.9" r="1.4"/><circle cx="249.9" cy="24.0" r="1.4"/><circle cx="220.8" cy="34.3" r="1.4"/><circle cx="217.4" cy="36.3" r="1.4"/><circle cx="218.6" cy="39.3" r="1.4"/><circle cx="229.3" cy="35.9" r="1.4"/><circle cx="230.7" cy="34.8" r="1.4"/><circle cx="238.9" cy="36.6" r="1.4"/><circle cx="240.0" cy="40.0" r="1.4"/><circle cx="237.1" cy="34.9" r="1.4"/><circle cx="243.7" cy="38.1" r="1.4"/><circle cx="239.5" cy="33.0" r="1.4"/><circle cx="245.8" cy="34.2" r="1.4"/><circle cx="248.3" cy="34.3" r="1.4"/><circle cx="246.6" cy="34.8" r="1.4"/><circle cx="249.7" cy="31.0" r="1.4"/><circle cx="250.6" cy="37.1" r="1.4"/><circle cx="222.9" cy="43.9" r="1.4"/><circle cx="214.2" cy="42.0" r="1.4"/><circle cx="222.9" cy="47.1" r="1.4"/><circle cx="214.9" cy="42.9" r="1.4"/><circle cx="227.9" cy="44.8" r="1.4"/><circle cx="224.3" cy="49.2" r="1.4"/><circle cx="229.3" cy="42.6" r="1.4"/><circle cx="224.3" cy="45.7" r="1.4"/><circle cx="233.3" cy="47.2" r="1.4"/><circle cx="242.6" cy="48.7" r="1.4"/><circle cx="240.7" cy="40.6" r="1.4"/><circle cx="237.1" cy="45.8" r="1.4"/><circle cx="238.2" cy="42.2" r="1.4"/><circle cx="234.7" cy="48.7" r="1.4"/><circle cx="240.7" cy="43.0" r="1.4"/><circle cx="238.7" cy="48.7" r="1.4"/><circle cx="235.4" cy="46.3" r="1.4"/><circle cx="246.3" cy="49.0" r="1.4"/><circle cx="252.0" cy="49.5" r="1.4"/><circle cx="247.8" cy="45.1" r="1.4"/><circle cx="247.2" cy="43.5" r="1.4"/><circle cx="253.5" cy="49.7" r="1.4"/><circle cx="253.9" cy="49.1" r="1.4"/><circle cx="248.9" cy="46.6" r="1.4"/><circle cx="253.1" cy="44.3" r="1.4"/><circle cx="219.9" cy="50.1" r="1.4"/><circle cx="216.4" cy="57.4" r="1.4"/><circle cx="220.7" cy="54.5" r="1.4"/><circle cx="219.7" cy="55.3" r="1.4"/><circle cx="217.5" cy="50.9" r="1.4"/><circle cx="221.4" cy="57.7" r="1.4"/><circle cx="218.3" cy="57.7" r="1.4"/><circle cx="222.3" cy="56.9" r="1.4"/><circle cx="222.1" cy="59.7" r="1.4"/><circle cx="224.4" cy="59.4" r="1.4"/><circle cx="228.5" cy="57.8" r="1.4"/><circle cx="231.4" cy="51.0" r="1.4"/><circle cx="229.9" cy="50.9" r="1.4"/><circle cx="231.3" cy="53.4" r="1.4"/><circle cx="227.8" cy="52.7" r="1.4"/><circle cx="232.1" cy="56.4" r="1.4"/><circle cx="227.0" cy="57.4" r="1.4"/><circle cx="225.9" cy="58.0" r="1.4"/><circle cx="230.0" cy="57.7" r="1.4"/><circle cx="230.2" cy="59.9" r="1.4"/><circle cx="231.0" cy="54.6" r="1.4"/><circle cx="229.9" cy="55.7" r="1.4"/><circle cx="226.9" cy="53.1" r="1.4"/><circle cx="232.0" cy="58.2" r="1.4"/><circle cx="233.7" cy="56.9" r="1.4"/><circle cx="239.0" cy="53.9" r="1.4"/><circle cx="241.1" cy="56.5" r="1.4"/><circle cx="243.4" cy="57.5" r="1.4"/><circle cx="237.8" cy="52.8" r="1.4"/><circle cx="234.4" cy="57.8" r="1.4"/><circle cx="238.3" cy="53.9" r="1.4"/><circle cx="234.5" cy="55.0" r="1.4"/><circle cx="243.0" cy="52.8" r="1.4"/><circle cx="241.4" cy="57.6" r="1.4"/><circle cx="240.6" cy="56.0" r="1.4"/><circle cx="236.5" cy="56.7" r="1.4"/><circle cx="239.8" cy="59.7" r="1.4"/><circle cx="239.2" cy="53.5" r="1.4"/><circle cx="243.1" cy="56.2" r="1.4"/><circle cx="237.4" cy="56.5" r="1.4"/><circle cx="235.5" cy="51.9" r="1.4"/><circle cx="242.8" cy="54.6" r="1.4"/><circle cx="252.0" cy="52.1" r="1.4"/><circle cx="248.7" cy="52.4" r="1.4"/><circle cx="252.0" cy="56.0" r="1.4"/><circle cx="247.9" cy="53.8" r="1.4"/><circle cx="246.1" cy="52.1" r="1.4"/><circle cx="250.9" cy="53.1" r="1.4"/><circle cx="245.0" cy="53.9" r="1.4"/><circle cx="248.5" cy="59.9" r="1.4"/><circle cx="247.9" cy="54.0" r="1.4"/><circle cx="253.7" cy="57.2" r="1.4"/><circle cx="248.6" cy="54.0" r="1.4"/><circle cx="246.3" cy="51.5" r="1.4"/><circle cx="248.7" cy="56.4" r="1.4"/><circle cx="219.7" cy="67.0" r="1.4"/><circle cx="217.8" cy="64.0" r="1.4"/><circle cx="217.4" cy="62.4" r="1.4"/><circle cx="221.9" cy="68.6" r="1.4"/><circle cx="216.8" cy="65.6" r="1.4"/><circle cx="218.6" cy="61.3" r="1.4"/><circle cx="221.3" cy="65.3" r="1.4"/><circle cx="223.9" cy="69.1" r="1.4"/><circle cx="223.0" cy="62.6" r="1.4"/><circle cx="225.1" cy="68.1" r="1.4"/><circle cx="225.1" cy="66.9" r="1.4"/><circle cx="225.8" cy="67.1" r="1.4"/><circle cx="224.5" cy="60.9" r="1.4"/><circle cx="232.7" cy="65.2" r="1.4"/><circle cx="228.5" cy="69.7" r="1.4"/><circle cx="231.8" cy="62.3" r="1.4"/><circle cx="231.1" cy="63.9" r="1.4"/><circle cx="228.6" cy="63.1" r="1.4"/><circle cx="226.3" cy="63.0" r="1.4"/><circle cx="226.7" cy="61.9" r="1.4"/><circle cx="232.7" cy="63.8" r="1.4"/><circle cx="229.6" cy="68.1" r="1.4"/><circle cx="230.8" cy="61.6" r="1.4"/><circle cx="233.5" cy="69.3" r="1.4"/><circle cx="232.4" cy="63.3" r="1.4"/><circle cx="232.3" cy="66.4" r="1.4"/><circle cx="224.3" cy="63.8" r="1.4"/><circle cx="241.0" cy="65.4" r="1.4"/><circle cx="243.5" cy="67.9" r="1.4"/><circle cx="242.4" cy="69.8" r="1.4"/><circle cx="237.4" cy="69.1" r="1.4"/><circle cx="234.0" cy="68.0" r="1.4"/><circle cx="234.9" cy="65.0" r="1.4"/><circle cx="238.4" cy="60.7" r="1.4"/><circle cx="240.4" cy="67.9" r="1.4"/><circle cx="236.2" cy="62.5" r="1.4"/><circle cx="241.7" cy="65.3" r="1.4"/><circle cx="234.2" cy="63.1" r="1.4"/><circle cx="243.4" cy="62.8" r="1.4"/><circle cx="236.9" cy="64.5" r="1.4"/><circle cx="242.9" cy="68.1" r="1.4"/><circle cx="237.9" cy="66.7" r="1.4"/><circle cx="234.3" cy="60.6" r="1.4"/><circle cx="237.7" cy="66.3" r="1.4"/><circle cx="235.4" cy="60.4" r="1.4"/><circle cx="242.5" cy="61.9" r="1.4"/><circle cx="234.5" cy="60.9" r="1.4"/><circle cx="234.8" cy="62.9" r="1.4"/><circle cx="239.8" cy="66.6" r="1.4"/><circle cx="236.9" cy="65.2" r="1.4"/><circle cx="237.3" cy="65.8" r="1.4"/><circle cx="245.1" cy="66.2" r="1.4"/><circle cx="244.0" cy="69.2" r="1.4"/><circle cx="246.1" cy="65.5" r="1.4"/><circle cx="245.9" cy="64.4" r="1.4"/><circle cx="246.6" cy="66.4" r="1.4"/><circle cx="251.8" cy="68.4" r="1.4"/><circle cx="253.7" cy="64.6" r="1.4"/><circle cx="249.5" cy="63.5" r="1.4"/><circle cx="246.9" cy="65.1" r="1.4"/><circle cx="253.7" cy="60.6" r="1.4"/><circle cx="251.5" cy="63.2" r="1.4"/><circle cx="250.0" cy="62.7" r="1.4"/><circle cx="251.2" cy="65.0" r="1.4"/><circle cx="247.1" cy="64.5" r="1.4"/><circle cx="244.0" cy="61.0" r="1.4"/><circle cx="253.1" cy="60.8" r="1.4"/><circle cx="248.0" cy="66.7" r="1.4"/><circle cx="244.4" cy="69.3" r="1.4"/><circle cx="195.0" cy="75.6" r="1.4"/><circle cx="196.7" cy="71.6" r="1.4"/><circle cx="203.5" cy="76.2" r="1.4"/><circle cx="211.3" cy="76.1" r="1.4"/><circle cx="209.6" cy="78.7" r="1.4"/><circle cx="204.6" cy="73.8" r="1.4"/><circle cx="216.2" cy="76.0" r="1.4"/><circle cx="217.9" cy="79.2" r="1.4"/><circle cx="216.3" cy="72.7" r="1.4"/><circle cx="223.2" cy="77.2" r="1.4"/><circle cx="228.3" cy="73.7" r="1.4"/><circle cx="231.3" cy="71.5" r="1.4"/><circle cx="231.2" cy="72.3" r="1.4"/><circle cx="232.1" cy="70.7" r="1.4"/><circle cx="233.1" cy="78.6" r="1.4"/><circle cx="224.2" cy="71.6" r="1.4"/><circle cx="233.1" cy="78.2" r="1.4"/><circle cx="226.9" cy="78.0" r="1.4"/><circle cx="239.8" cy="72.5" r="1.4"/><circle cx="240.9" cy="74.1" r="1.4"/><circle cx="235.4" cy="78.5" r="1.4"/><circle cx="241.2" cy="72.4" r="1.4"/><circle cx="238.3" cy="76.8" r="1.4"/><circle cx="237.7" cy="72.6" r="1.4"/><circle cx="239.3" cy="79.5" r="1.4"/><circle cx="235.0" cy="72.5" r="1.4"/><circle cx="238.8" cy="79.8" r="1.4"/><circle cx="243.9" cy="70.1" r="1.4"/><circle cx="240.4" cy="71.4" r="1.4"/><circle cx="246.1" cy="71.4" r="1.4"/><circle cx="249.0" cy="79.9" r="1.4"/><circle cx="253.7" cy="73.7" r="1.4"/><circle cx="253.0" cy="76.9" r="1.4"/><circle cx="244.7" cy="79.0" r="1.4"/><circle cx="246.7" cy="79.8" r="1.4"/><circle cx="245.3" cy="79.0" r="1.4"/><circle cx="249.1" cy="75.2" r="1.4"/><circle cx="245.8" cy="74.9" r="1.4"/></g>
<circle cx="212.8" cy="41.7" r="4.6" fill="#000004" stroke="#000" stroke-width="0.7"/>
<circle cx="231.2" cy="40.8" r="4.6" fill="#000004" stroke="#000" stroke-width="0.7"/>
<circle cx="273.9" cy="80.1" r="4.6" fill="#fcfdbf" stroke="#000" stroke-width="0.7"/>
<circle cx="283.0" cy="91.3" r="4.6" fill="#f8765c" stroke="#000" stroke-width="0.7"/>
<circle cx="338.0" cy="78.7" r="4.6" fill="#febb81" stroke="#000" stroke-width="0.7"/>
<circle cx="385.3" cy="90.8" r="4.6" fill="#febb81" stroke="#000" stroke-width="0.7"/>
<circle cx="303.2" cy="113.8" r="4.6" fill="#febb81" stroke="#000" stroke-width="0.7"/>
<circle cx="281.4" cy="122.6" r="4.6" fill="#f8765c" stroke="#000" stroke-width="0.7"/>
<circle cx="289.6" cy="117.7" r="4.6" fill="#5f187f" stroke="#000" stroke-width="0.7"/>
<circle cx="282.6" cy="124.2" r="4.6" fill="#febb81" stroke="#000" stroke-width="0.7"/>
<circle cx="260.8" cy="131.7" r="4.6" fill="#fcfdbf" stroke="#000" stroke-width="0.7"/>
<circle cx="280.1" cy="141.4" r="4.6" fill="#5f187f" stroke="#000" stroke-width="0.7"/>
<circle cx="283.6" cy="146.8" r="4.6" fill="#febb81" stroke="#000" stroke-width="0.7"/>
<circle cx="293.2" cy="151.5" r="4.6" fill="#000004" stroke="#000" stroke-width="0.7"/>
<circle cx="317.9" cy="148.0" r="4.6" fill="#982d80" stroke="#000" stroke-width="0.7"/>
<circle cx="199.7" cy="151.6" r="4.6" fill="#000004" stroke="#000" stroke-width="0.7"/>
<circle cx="294.4" cy="164.9" r="4.6" fill="#5f187f" stroke="#000" stroke-width="0.7"/>
<circle cx="288.2" cy="168.6" r="4.6" fill="#982d80" stroke="#000" stroke-width="0.7"/>
<circle cx="325.3" cy="164.7" r="4.6" fill="#febb81" stroke="#000" stroke-width="0.7"/>
<circle cx="315.8" cy="172.4" r="4.6" fill="#000004" stroke="#000" stroke-width="0.7"/>
<circle cx="321.6" cy="175.3" r="4.6" fill="#000004" stroke="#000" stroke-width="0.7"/>
<circle cx="330.0" cy="179.3" r="4.6" fill="#221150" stroke="#000" stroke-width="0.7"/>
<circle cx="383.8" cy="163.2" r="4.6" fill="#5f187f" stroke="#000" stroke-width="0.7"/>
<circle cx="230.0" cy="187.6" r="4.6" fill="#5f187f" stroke="#000" stroke-width="0.7"/>
<circle cx="275.0" cy="195.6" r="4.6" fill="#221150" stroke="#000" stroke-width="0.7"/>
<circle cx="312.4" cy="201.0" r="4.6" fill="#000004" stroke="#000" stroke-width="0.7"/>
<circle cx="331.4" cy="201.9" r="4.6" fill="#000004" stroke="#000" stroke-width="0.7"/>
<circle cx="208.6" cy="202.5" r="4.6" fill="#000004" stroke="#000" stroke-width="0.7"/>
<circle cx="205.2" cy="204.7" r="4.6" fill="#982d80" stroke="#000" stroke-width="0.7"/>
<circle cx="142.0" cy="206.9" r="4.6" fill="#5f187f" stroke="#000" stroke-width="0.7"/>
<circle cx="341.2" cy="224.7" r="4.6" fill="#000004" stroke="#000" stroke-width="0.7"/>
<circle cx="264.9" cy="231.2" r="4.6" fill="#000004" stroke="#000" stroke-width="0.7"/>
<circle cx="293.1" cy="230.3" r="4.6" fill="#000004" stroke="#000" stroke-width="0.7"/>
<circle cx="291.9" cy="233.9" r="4.6" fill="#000004" stroke="#000" stroke-width="0.7"/>
<circle cx="119.3" cy="244.3" r="4.6" fill="#000004" stroke="#000" stroke-width="0.7"/>
<circle cx="280.7" cy="253.8" r="4.6" fill="#000004" stroke="#000" stroke-width="0.7"/>
<path d="M275.50,139.80 L278.33,148.51 L287.48,148.51 L280.08,153.89 L282.91,162.59 L275.50,157.21 L268.09,162.59 L270.92,153.89 L263.52,148.51 L272.67,148.51 Z" fill="#f8765c" stroke="#000" stroke-width="1.1" stroke-linejoin="miter"/>
<rect x="510.2" y="333.95" width="14.70" height="15.15" fill="#fcfdbf"/>
<rect x="510.2" y="319.10" width="14.70" height="15.15" fill="#febb81"/>
<rect x="510.2" y="304.25" width="14.70" height="15.15" fill="#f8765c"/>
<rect x="510.2" y="289.40" width="14.70" height="15.15" fill="#d3436e"/>
<rect x="510.2" y="274.55" width="14.70" height="15.15" fill="#982d80"/>
<rect x="510.2" y="259.70" width="14.70" height="15.15" fill="#5f187f"/>
<rect x="510.2" y="244.85" width="14.70" height="15.15" fill="#221150"/>
<rect x="510.2" y="230.00" width="14.70" height="15.15" fill="#000004"/>
<rect x="510.2" y="230.0" width="14.70" height="118.80" fill="none" stroke="#000" stroke-width="1.6"/>
<line x1="89.61" y1="360.6" x2="89.61" y2="355.70000000000005" stroke="#000" stroke-width="1.5"/>
<line x1="89.61" y1="1.0" x2="89.61" y2="5.9" stroke="#000" stroke-width="1.5"/>
<line x1="110.64" y1="360.6" x2="110.64" y2="355.70000000000005" stroke="#000" stroke-width="1.5"/>
<line x1="110.64" y1="1.0" x2="110.64" y2="5.9" stroke="#000" stroke-width="1.5"/>
<line x1="125.57" y1="360.6" x2="125.57" y2="355.70000000000005" stroke="#000" stroke-width="1.5"/>
<line x1="125.57" y1="1.0" x2="125.57" y2="5.9" stroke="#000" stroke-width="1.5"/>
<line x1="137.14" y1="360.6" x2="137.14" y2="355.70000000000005" stroke="#000" stroke-width="1.5"/>
<line x1="137.14" y1="1.0" x2="137.14" y2="5.9" stroke="#000" stroke-width="1.5"/>
<line x1="146.60" y1="360.6" x2="146.60" y2="355.70000000000005" stroke="#000" stroke-width="1.5"/>
<line x1="146.60" y1="1.0" x2="146.60" y2="5.9" stroke="#000" stroke-width="1.5"/>
<line x1="154.60" y1="360.6" x2="154.60" y2="355.70000000000005" stroke="#000" stroke-width="1.5"/>
<line x1="154.60" y1="1.0" x2="154.60" y2="5.9" stroke="#000" stroke-width="1.5"/>
<line x1="161.52" y1="360.6" x2="161.52" y2="355.70000000000005" stroke="#000" stroke-width="1.5"/>
<line x1="161.52" y1="1.0" x2="161.52" y2="5.9" stroke="#000" stroke-width="1.5"/>
<line x1="167.63" y1="360.6" x2="167.63" y2="355.70000000000005" stroke="#000" stroke-width="1.5"/>
<line x1="167.63" y1="1.0" x2="167.63" y2="5.9" stroke="#000" stroke-width="1.5"/>
<line x1="173.10" y1="360.6" x2="173.10" y2="350.90000000000003" stroke="#000" stroke-width="1.75"/>
<line x1="173.10" y1="1.0" x2="173.10" y2="10.7" stroke="#000" stroke-width="1.75"/>
<line x1="209.06" y1="360.6" x2="209.06" y2="355.70000000000005" stroke="#000" stroke-width="1.5"/>
<line x1="209.06" y1="1.0" x2="209.06" y2="5.9" stroke="#000" stroke-width="1.5"/>
<line x1="230.09" y1="360.6" x2="230.09" y2="355.70000000000005" stroke="#000" stroke-width="1.5"/>
<line x1="230.09" y1="1.0" x2="230.09" y2="5.9" stroke="#000" stroke-width="1.5"/>
<line x1="245.02" y1="360.6" x2="245.02" y2="355.70000000000005" stroke="#000" stroke-width="1.5"/>
<line x1="245.02" y1="1.0" x2="245.02" y2="5.9" stroke="#000" stroke-width="1.5"/>
<line x1="256.59" y1="360.6" x2="256.59" y2="355.70000000000005" stroke="#000" stroke-width="1.5"/>
<line x1="256.59" y1="1.0" x2="256.59" y2="5.9" stroke="#000" stroke-width="1.5"/>
<line x1="266.05" y1="360.6" x2="266.05" y2="355.70000000000005" stroke="#000" stroke-width="1.5"/>
<line x1="266.05" y1="1.0" x2="266.05" y2="5.9" stroke="#000" stroke-width="1.5"/>
<line x1="274.05" y1="360.6" x2="274.05" y2="355.70000000000005" stroke="#000" stroke-width="1.5"/>
<line x1="274.05" y1="1.0" x2="274.05" y2="5.9" stroke="#000" stroke-width="1.5"/>
<line x1="280.97" y1="360.6" x2="280.97" y2="355.70000000000005" stroke="#000" stroke-width="1.5"/>
<line x1="280.97" y1="1.0" x2="280.97" y2="5.9" stroke="#000" stroke-width="1.5"/>
<line x1="287.08" y1="360.6" x2="287.08" y2="355.70000000000005" stroke="#000" stroke-width="1.5"/>
<line x1="287.08" y1="1.0" x2="287.08" y2="5.9" stroke="#000" stroke-width="1.5"/>
<line x1="292.55" y1="360.6" x2="292.55" y2="350.90000000000003" stroke="#000" stroke-width="1.75"/>
<line x1="292.55" y1="1.0" x2="292.55" y2="10.7" stroke="#000" stroke-width="1.75"/>
<line x1="328.51" y1="360.6" x2="328.51" y2="355.70000000000005" stroke="#000" stroke-width="1.5"/>
<line x1="328.51" y1="1.0" x2="328.51" y2="5.9" stroke="#000" stroke-width="1.5"/>
<line x1="349.54" y1="360.6" x2="349.54" y2="355.70000000000005" stroke="#000" stroke-width="1.5"/>
<line x1="349.54" y1="1.0" x2="349.54" y2="5.9" stroke="#000" stroke-width="1.5"/>
<line x1="364.47" y1="360.6" x2="364.47" y2="355.70000000000005" stroke="#000" stroke-width="1.5"/>
<line x1="364.47" y1="1.0" x2="364.47" y2="5.9" stroke="#000" stroke-width="1.5"/>
<line x1="376.04" y1="360.6" x2="376.04" y2="355.70000000000005" stroke="#000" stroke-width="1.5"/>
<line x1="376.04" y1="1.0" x2="376.04" y2="5.9" stroke="#000" stroke-width="1.5"/>
<line x1="385.50" y1="360.6" x2="385.50" y2="355.70000000000005" stroke="#000" stroke-width="1.5"/>
<line x1="385.50" y1="1.0" x2="385.50" y2="5.9" stroke="#000" stroke-width="1.5"/>
<line x1="393.50" y1="360.6" x2="393.50" y2="355.70000000000005" stroke="#000" stroke-width="1.5"/>
<line x1="393.50" y1="1.0" x2="393.50" y2="5.9" stroke="#000" stroke-width="1.5"/>
<line x1="400.42" y1="360.6" x2="400.42" y2="355.70000000000005" stroke="#000" stroke-width="1.5"/>
<line x1="400.42" y1="1.0" x2="400.42" y2="5.9" stroke="#000" stroke-width="1.5"/>
<line x1="406.53" y1="360.6" x2="406.53" y2="355.70000000000005" stroke="#000" stroke-width="1.5"/>
<line x1="406.53" y1="1.0" x2="406.53" y2="5.9" stroke="#000" stroke-width="1.5"/>
<line x1="412.00" y1="360.6" x2="412.00" y2="350.90000000000003" stroke="#000" stroke-width="1.75"/>
<line x1="412.00" y1="1.0" x2="412.00" y2="10.7" stroke="#000" stroke-width="1.75"/>
<line x1="447.96" y1="360.6" x2="447.96" y2="355.70000000000005" stroke="#000" stroke-width="1.5"/>
<line x1="447.96" y1="1.0" x2="447.96" y2="5.9" stroke="#000" stroke-width="1.5"/>
<line x1="468.99" y1="360.6" x2="468.99" y2="355.70000000000005" stroke="#000" stroke-width="1.5"/>
<line x1="468.99" y1="1.0" x2="468.99" y2="5.9" stroke="#000" stroke-width="1.5"/>
<line x1="483.92" y1="360.6" x2="483.92" y2="355.70000000000005" stroke="#000" stroke-width="1.5"/>
<line x1="483.92" y1="1.0" x2="483.92" y2="5.9" stroke="#000" stroke-width="1.5"/>
<line x1="495.49" y1="360.6" x2="495.49" y2="355.70000000000005" stroke="#000" stroke-width="1.5"/>
<line x1="495.49" y1="1.0" x2="495.49" y2="5.9" stroke="#000" stroke-width="1.5"/>
<line x1="504.95" y1="360.6" x2="504.95" y2="355.70000000000005" stroke="#000" stroke-width="1.5"/>
<line x1="504.95" y1="1.0" x2="504.95" y2="5.9" stroke="#000" stroke-width="1.5"/>
<line x1="512.95" y1="360.6" x2="512.95" y2="355.70000000000005" stroke="#000" stroke-width="1.5"/>
<line x1="512.95" y1="1.0" x2="512.95" y2="5.9" stroke="#000" stroke-width="1.5"/>
<line x1="519.87" y1="360.6" x2="519.87" y2="355.70000000000005" stroke="#000" stroke-width="1.5"/>
<line x1="519.87" y1="1.0" x2="519.87" y2="5.9" stroke="#000" stroke-width="1.5"/>
<line x1="525.98" y1="360.6" x2="525.98" y2="355.70000000000005" stroke="#000" stroke-width="1.5"/>
<line x1="525.98" y1="1.0" x2="525.98" y2="5.9" stroke="#000" stroke-width="1.5"/>
<line x1="531.45" y1="360.6" x2="531.45" y2="350.90000000000003" stroke="#000" stroke-width="1.75"/>
<line x1="531.45" y1="1.0" x2="531.45" y2="10.7" stroke="#000" stroke-width="1.75"/>
<line x1="53.9" y1="343.04" x2="58.8" y2="343.04" stroke="#000" stroke-width="1.5"/>
<line x1="536.2" y1="343.04" x2="531.3000000000001" y2="343.04" stroke="#000" stroke-width="1.5"/>
<line x1="53.9" y1="321.53" x2="58.8" y2="321.53" stroke="#000" stroke-width="1.5"/>
<line x1="536.2" y1="321.53" x2="531.3000000000001" y2="321.53" stroke="#000" stroke-width="1.5"/>
<line x1="53.9" y1="304.84" x2="58.8" y2="304.84" stroke="#000" stroke-width="1.5"/>
<line x1="536.2" y1="304.84" x2="531.3000000000001" y2="304.84" stroke="#000" stroke-width="1.5"/>
<line x1="53.9" y1="291.20" x2="58.8" y2="291.20" stroke="#000" stroke-width="1.5"/>
<line x1="536.2" y1="291.20" x2="531.3000000000001" y2="291.20" stroke="#000" stroke-width="1.5"/>
<line x1="53.9" y1="279.67" x2="58.8" y2="279.67" stroke="#000" stroke-width="1.5"/>
<line x1="536.2" y1="279.67" x2="531.3000000000001" y2="279.67" stroke="#000" stroke-width="1.5"/>
<line x1="53.9" y1="269.69" x2="58.8" y2="269.69" stroke="#000" stroke-width="1.5"/>
<line x1="536.2" y1="269.69" x2="531.3000000000001" y2="269.69" stroke="#000" stroke-width="1.5"/>
<line x1="53.9" y1="260.88" x2="58.8" y2="260.88" stroke="#000" stroke-width="1.5"/>
<line x1="536.2" y1="260.88" x2="531.3000000000001" y2="260.88" stroke="#000" stroke-width="1.5"/>
<line x1="53.9" y1="253.00" x2="63.599999999999994" y2="253.00" stroke="#000" stroke-width="1.75"/>
<line x1="536.2" y1="253.00" x2="526.5" y2="253.00" stroke="#000" stroke-width="1.75"/>
<line x1="53.9" y1="201.16" x2="58.8" y2="201.16" stroke="#000" stroke-width="1.5"/>
<line x1="536.2" y1="201.16" x2="531.3000000000001" y2="201.16" stroke="#000" stroke-width="1.5"/>
<line x1="53.9" y1="170.84" x2="58.8" y2="170.84" stroke="#000" stroke-width="1.5"/>
<line x1="536.2" y1="170.84" x2="531.3000000000001" y2="170.84" stroke="#000" stroke-width="1.5"/>
<line x1="53.9" y1="149.33" x2="58.8" y2="149.33" stroke="#000" stroke-width="1.5"/>
<line x1="536.2" y1="149.33" x2="531.3000000000001" y2="149.33" stroke="#000" stroke-width="1.5"/>
<line x1="53.9" y1="132.64" x2="58.8" y2="132.64" stroke="#000" stroke-width="1.5"/>
<line x1="536.2" y1="132.64" x2="531.3000000000001" y2="132.64" stroke="#000" stroke-width="1.5"/>
<line x1="53.9" y1="119.00" x2="58.8" y2="119.00" stroke="#000" stroke-width="1.5"/>
<line x1="536.2" y1="119.00" x2="531.3000000000001" y2="119.00" stroke="#000" stroke-width="1.5"/>
<line x1="53.9" y1="107.47" x2="58.8" y2="107.47" stroke="#000" stroke-width="1.5"/>
<line x1="536.2" y1="107.47" x2="531.3000000000001" y2="107.47" stroke="#000" stroke-width="1.5"/>
<line x1="53.9" y1="97.49" x2="58.8" y2="97.49" stroke="#000" stroke-width="1.5"/>
<line x1="536.2" y1="97.49" x2="531.3000000000001" y2="97.49" stroke="#000" stroke-width="1.5"/>
<line x1="53.9" y1="88.68" x2="58.8" y2="88.68" stroke="#000" stroke-width="1.5"/>
<line x1="536.2" y1="88.68" x2="531.3000000000001" y2="88.68" stroke="#000" stroke-width="1.5"/>
<line x1="53.9" y1="80.80" x2="63.599999999999994" y2="80.80" stroke="#000" stroke-width="1.75"/>
<line x1="536.2" y1="80.80" x2="526.5" y2="80.80" stroke="#000" stroke-width="1.75"/>
<line x1="53.9" y1="28.96" x2="58.8" y2="28.96" stroke="#000" stroke-width="1.5"/>
<line x1="536.2" y1="28.96" x2="531.3000000000001" y2="28.96" stroke="#000" stroke-width="1.5"/>
<rect x="53.9" y="1.0" width="482.30000000000007" height="359.6" fill="none" stroke="#000" stroke-width="1.9"/>
<text x="37.31 46.15" y="377.50" font-size="14.31" >10</text>
<text x="56.54" y="372.50" font-size="10.01" >−</text>
<text x="63.85" y="372.50" font-size="10.01" >1</text>
<text x="161.14 169.98" y="377.50" font-size="14.31" >10</text>
<text x="179.53" y="372.55" font-size="10.01" >0</text>
<text x="280.59 289.43" y="377.50" font-size="14.31" >10</text>
<text x="298.98" y="372.55" font-size="10.01" >1</text>
<text x="400.04 408.88" y="377.50" font-size="14.31" >10</text>
<text x="418.43" y="372.55" font-size="10.01" >2</text>
<text x="519.49 528.33" y="377.50" font-size="14.31" >10</text>
<text x="537.88" y="372.55" font-size="10.01" >3</text>
<text x="23.24 32.08" y="258.65" font-size="14.31" >10</text>
<text x="41.51" y="253.80" font-size="10.01" >0</text>
<text x="23.24 32.08" y="86.45" font-size="14.31" >10</text>
<text x="41.51" y="81.60" font-size="10.01" >1</text>
<text x="208.35 222.16 228.96 239.43 244.54 250.52 260.81 265.30 270.85 281.27 291.74 298.44 302.98 313.37 323.70 329.60 335.76 346.16 356.68 365.95 375.46" y="400.60" font-size="17.17" >Orbital period [days]</text>
<text transform="translate(13.30,270.43) rotate(-90)" font-size="17.17" x="-0.70 10.46 15.02 25.41 35.82 46.60 52.52 58.12 64.74 75.14 85.61 90.35 100.45 109.35 115.25 120.43 131.76 142.21 149.38 155.54 165.64 175.15" y="0">Planet radius [Earths]</text>
<text x="483.27 490.63" y="234.40" font-size="11.92" >10</text>
<text x="498.56" y="230.60" font-size="8.34" >9</text>
<text x="483.27 490.63" y="293.80" font-size="11.92" >10</text>
<text x="498.56" y="290.00" font-size="8.34" >8</text>
<text x="483.27 490.63" y="353.20" font-size="11.92" >10</text>
<text x="498.56" y="349.40" font-size="8.34" >7</text>
<text transform="translate(473.80,322.59) rotate(-90)" font-size="11.92" x="-0.02 8.27 15.50 22.56 26.66 31.01 37.66 44.77 52.02 56.42 63.01" y="0">Age [years]</text>
</svg></body></html>
